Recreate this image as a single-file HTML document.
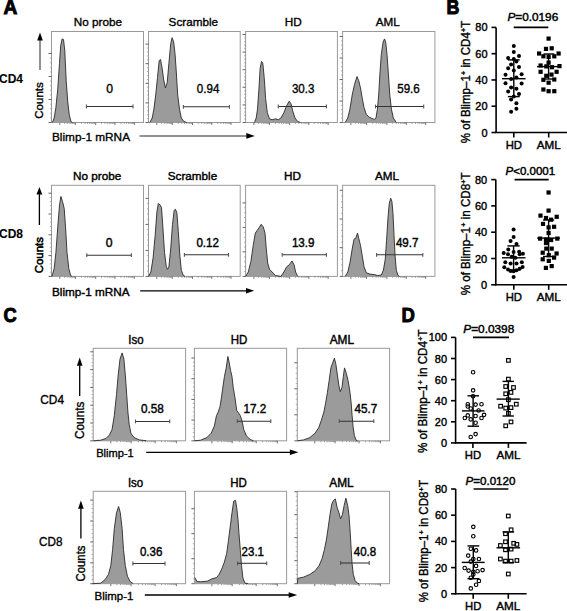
<!DOCTYPE html>
<html><head><meta charset="utf-8"><style>
html,body{margin:0;padding:0;background:#fff;}
body{width:567px;height:611px;overflow:hidden;}
svg{display:block;font-family:"Liberation Sans", sans-serif;}
text{stroke:#000;stroke-width:0.35px;}
</style></head><body>
<svg width="567" height="611" viewBox="0 0 567 611" font-family='"Liberation Sans", sans-serif'>
<rect width="567" height="611" fill="#fff"/>
<text x="3.4" y="14.3" font-size="20" font-weight="bold" text-anchor="start" textLength="13.8" lengthAdjust="spacingAndGlyphs" style="stroke-width:1px">A</text>
<text x="446.4" y="14.3" font-size="20" font-weight="bold" text-anchor="start" textLength="12.9" lengthAdjust="spacingAndGlyphs" style="stroke-width:1px">B</text>
<text x="3.6" y="322.3" font-size="21" font-weight="bold" text-anchor="start" textLength="13.2" lengthAdjust="spacingAndGlyphs" style="stroke-width:1px">C</text>
<text x="401.6" y="322.3" font-size="21" font-weight="bold" text-anchor="start" textLength="13.4" lengthAdjust="spacingAndGlyphs" style="stroke-width:1px">D</text>
<rect x="51.5" y="31.5" width="92.0" height="91.0" fill="none" stroke="#999999" stroke-width="1"/>
<line x1="48.5" y1="53.5" x2="51.5" y2="53.5" stroke="#555" stroke-width="0.9"/>
<line x1="48.5" y1="76.5" x2="51.5" y2="76.5" stroke="#555" stroke-width="0.9"/>
<line x1="48.5" y1="99.5" x2="51.5" y2="99.5" stroke="#555" stroke-width="0.9"/>
<line x1="48.5" y1="122.5" x2="51.5" y2="122.5" stroke="#555" stroke-width="0.9"/>
<line x1="49.9" y1="58.1" x2="51.5" y2="58.1" stroke="#888" stroke-width="0.6"/>
<line x1="49.9" y1="62.7" x2="51.5" y2="62.7" stroke="#888" stroke-width="0.6"/>
<line x1="49.9" y1="67.3" x2="51.5" y2="67.3" stroke="#888" stroke-width="0.6"/>
<line x1="49.9" y1="71.9" x2="51.5" y2="71.9" stroke="#888" stroke-width="0.6"/>
<line x1="49.9" y1="81.1" x2="51.5" y2="81.1" stroke="#888" stroke-width="0.6"/>
<line x1="49.9" y1="85.7" x2="51.5" y2="85.7" stroke="#888" stroke-width="0.6"/>
<line x1="49.9" y1="90.3" x2="51.5" y2="90.3" stroke="#888" stroke-width="0.6"/>
<line x1="49.9" y1="94.9" x2="51.5" y2="94.9" stroke="#888" stroke-width="0.6"/>
<line x1="49.9" y1="104.1" x2="51.5" y2="104.1" stroke="#888" stroke-width="0.6"/>
<line x1="49.9" y1="108.7" x2="51.5" y2="108.7" stroke="#888" stroke-width="0.6"/>
<line x1="49.9" y1="113.3" x2="51.5" y2="113.3" stroke="#888" stroke-width="0.6"/>
<line x1="49.9" y1="117.9" x2="51.5" y2="117.9" stroke="#888" stroke-width="0.6"/>
<line x1="59.8" y1="122.5" x2="59.8" y2="125.0" stroke="#666" stroke-width="0.9"/>
<line x1="75.4" y1="122.5" x2="75.4" y2="125.0" stroke="#666" stroke-width="0.9"/>
<line x1="95.7" y1="122.5" x2="95.7" y2="125.0" stroke="#666" stroke-width="0.9"/>
<line x1="115.0" y1="122.5" x2="115.0" y2="125.0" stroke="#666" stroke-width="0.9"/>
<line x1="134.3" y1="122.5" x2="134.3" y2="125.0" stroke="#666" stroke-width="0.9"/>
<line x1="64.5" y1="122.5" x2="64.5" y2="123.9" stroke="#666" stroke-width="0.6"/>
<line x1="67.2" y1="122.5" x2="67.2" y2="123.9" stroke="#666" stroke-width="0.6"/>
<line x1="69.2" y1="122.5" x2="69.2" y2="123.9" stroke="#666" stroke-width="0.6"/>
<line x1="70.7" y1="122.5" x2="70.7" y2="123.9" stroke="#666" stroke-width="0.6"/>
<line x1="72.0" y1="122.5" x2="72.0" y2="123.9" stroke="#666" stroke-width="0.6"/>
<line x1="73.0" y1="122.5" x2="73.0" y2="123.9" stroke="#666" stroke-width="0.6"/>
<line x1="73.9" y1="122.5" x2="73.9" y2="123.9" stroke="#666" stroke-width="0.6"/>
<line x1="74.7" y1="122.5" x2="74.7" y2="123.9" stroke="#666" stroke-width="0.6"/>
<line x1="81.5" y1="122.5" x2="81.5" y2="123.9" stroke="#666" stroke-width="0.6"/>
<line x1="85.1" y1="122.5" x2="85.1" y2="123.9" stroke="#666" stroke-width="0.6"/>
<line x1="87.6" y1="122.5" x2="87.6" y2="123.9" stroke="#666" stroke-width="0.6"/>
<line x1="89.6" y1="122.5" x2="89.6" y2="123.9" stroke="#666" stroke-width="0.6"/>
<line x1="91.2" y1="122.5" x2="91.2" y2="123.9" stroke="#666" stroke-width="0.6"/>
<line x1="92.5" y1="122.5" x2="92.5" y2="123.9" stroke="#666" stroke-width="0.6"/>
<line x1="93.7" y1="122.5" x2="93.7" y2="123.9" stroke="#666" stroke-width="0.6"/>
<line x1="94.7" y1="122.5" x2="94.7" y2="123.9" stroke="#666" stroke-width="0.6"/>
<line x1="101.5" y1="122.5" x2="101.5" y2="123.9" stroke="#666" stroke-width="0.6"/>
<line x1="104.9" y1="122.5" x2="104.9" y2="123.9" stroke="#666" stroke-width="0.6"/>
<line x1="107.3" y1="122.5" x2="107.3" y2="123.9" stroke="#666" stroke-width="0.6"/>
<line x1="109.2" y1="122.5" x2="109.2" y2="123.9" stroke="#666" stroke-width="0.6"/>
<line x1="110.7" y1="122.5" x2="110.7" y2="123.9" stroke="#666" stroke-width="0.6"/>
<line x1="112.0" y1="122.5" x2="112.0" y2="123.9" stroke="#666" stroke-width="0.6"/>
<line x1="113.1" y1="122.5" x2="113.1" y2="123.9" stroke="#666" stroke-width="0.6"/>
<line x1="114.1" y1="122.5" x2="114.1" y2="123.9" stroke="#666" stroke-width="0.6"/>
<line x1="120.8" y1="122.5" x2="120.8" y2="123.9" stroke="#666" stroke-width="0.6"/>
<line x1="124.2" y1="122.5" x2="124.2" y2="123.9" stroke="#666" stroke-width="0.6"/>
<line x1="126.6" y1="122.5" x2="126.6" y2="123.9" stroke="#666" stroke-width="0.6"/>
<line x1="128.5" y1="122.5" x2="128.5" y2="123.9" stroke="#666" stroke-width="0.6"/>
<line x1="130.0" y1="122.5" x2="130.0" y2="123.9" stroke="#666" stroke-width="0.6"/>
<line x1="131.3" y1="122.5" x2="131.3" y2="123.9" stroke="#666" stroke-width="0.6"/>
<line x1="132.4" y1="122.5" x2="132.4" y2="123.9" stroke="#666" stroke-width="0.6"/>
<line x1="133.4" y1="122.5" x2="133.4" y2="123.9" stroke="#666" stroke-width="0.6"/>
<path d="M52.4,122.4 L54.2,118.0 L55.9,107.4 L57.7,89.7 L59.5,63.3 L60.7,45.6 L62.1,38.9 L63.5,39.5 L64.8,50.9 L66.2,80.9 L67.8,102.0 L69.2,114.4 L70.9,121.5 L72.5,122.4 L72.5,122.5 L52.4,122.5 Z" fill="#9b9b9b" stroke="none"/>
<path d="M52.4,122.4 L54.2,118.0 L55.9,107.4 L57.7,89.7 L59.5,63.3 L60.7,45.6 L62.1,38.9 L63.5,39.5 L64.8,50.9 L66.2,80.9 L67.8,102.0 L69.2,114.4 L70.9,121.5 L72.5,122.4" fill="none" stroke="#2a2a2a" stroke-width="0.9" stroke-linejoin="round"/>
<line x1="86.4" y1="106.5" x2="133" y2="106.5" stroke="#333" stroke-width="1.05"/>
<line x1="86.4" y1="104.6" x2="86.4" y2="108.4" stroke="#555" stroke-width="1.1"/>
<line x1="133" y1="104.6" x2="133" y2="108.4" stroke="#555" stroke-width="1.1"/>
<text x="109.7" y="92.7" font-size="12.2" font-weight="normal" text-anchor="middle" >0</text>
<text x="73.8" y="25.6" font-size="11.7" font-weight="normal" text-anchor="start" textLength="48.3" lengthAdjust="spacingAndGlyphs" >No probe</text>
<rect x="148.5" y="31.5" width="91.69999999999999" height="91.0" fill="none" stroke="#999999" stroke-width="1"/>
<line x1="145.5" y1="44.099999999999994" x2="148.5" y2="44.099999999999994" stroke="#555" stroke-width="0.9"/>
<line x1="145.5" y1="63.699999999999996" x2="148.5" y2="63.699999999999996" stroke="#555" stroke-width="0.9"/>
<line x1="145.5" y1="83.3" x2="148.5" y2="83.3" stroke="#555" stroke-width="0.9"/>
<line x1="145.5" y1="102.9" x2="148.5" y2="102.9" stroke="#555" stroke-width="0.9"/>
<line x1="145.5" y1="122.5" x2="148.5" y2="122.5" stroke="#555" stroke-width="0.9"/>
<line x1="146.9" y1="48.0" x2="148.5" y2="48.0" stroke="#888" stroke-width="0.6"/>
<line x1="146.9" y1="51.9" x2="148.5" y2="51.9" stroke="#888" stroke-width="0.6"/>
<line x1="146.9" y1="55.9" x2="148.5" y2="55.9" stroke="#888" stroke-width="0.6"/>
<line x1="146.9" y1="59.8" x2="148.5" y2="59.8" stroke="#888" stroke-width="0.6"/>
<line x1="146.9" y1="67.6" x2="148.5" y2="67.6" stroke="#888" stroke-width="0.6"/>
<line x1="146.9" y1="71.5" x2="148.5" y2="71.5" stroke="#888" stroke-width="0.6"/>
<line x1="146.9" y1="75.5" x2="148.5" y2="75.5" stroke="#888" stroke-width="0.6"/>
<line x1="146.9" y1="79.4" x2="148.5" y2="79.4" stroke="#888" stroke-width="0.6"/>
<line x1="146.9" y1="87.2" x2="148.5" y2="87.2" stroke="#888" stroke-width="0.6"/>
<line x1="146.9" y1="91.1" x2="148.5" y2="91.1" stroke="#888" stroke-width="0.6"/>
<line x1="146.9" y1="95.1" x2="148.5" y2="95.1" stroke="#888" stroke-width="0.6"/>
<line x1="146.9" y1="99.0" x2="148.5" y2="99.0" stroke="#888" stroke-width="0.6"/>
<line x1="146.9" y1="106.8" x2="148.5" y2="106.8" stroke="#888" stroke-width="0.6"/>
<line x1="146.9" y1="110.7" x2="148.5" y2="110.7" stroke="#888" stroke-width="0.6"/>
<line x1="146.9" y1="114.7" x2="148.5" y2="114.7" stroke="#888" stroke-width="0.6"/>
<line x1="146.9" y1="118.6" x2="148.5" y2="118.6" stroke="#888" stroke-width="0.6"/>
<line x1="156.8" y1="122.5" x2="156.8" y2="125.0" stroke="#666" stroke-width="0.9"/>
<line x1="172.3" y1="122.5" x2="172.3" y2="125.0" stroke="#666" stroke-width="0.9"/>
<line x1="192.5" y1="122.5" x2="192.5" y2="125.0" stroke="#666" stroke-width="0.9"/>
<line x1="211.8" y1="122.5" x2="211.8" y2="125.0" stroke="#666" stroke-width="0.9"/>
<line x1="231.0" y1="122.5" x2="231.0" y2="125.0" stroke="#666" stroke-width="0.9"/>
<line x1="161.4" y1="122.5" x2="161.4" y2="123.9" stroke="#666" stroke-width="0.6"/>
<line x1="164.2" y1="122.5" x2="164.2" y2="123.9" stroke="#666" stroke-width="0.6"/>
<line x1="166.1" y1="122.5" x2="166.1" y2="123.9" stroke="#666" stroke-width="0.6"/>
<line x1="167.6" y1="122.5" x2="167.6" y2="123.9" stroke="#666" stroke-width="0.6"/>
<line x1="168.9" y1="122.5" x2="168.9" y2="123.9" stroke="#666" stroke-width="0.6"/>
<line x1="169.9" y1="122.5" x2="169.9" y2="123.9" stroke="#666" stroke-width="0.6"/>
<line x1="170.8" y1="122.5" x2="170.8" y2="123.9" stroke="#666" stroke-width="0.6"/>
<line x1="171.6" y1="122.5" x2="171.6" y2="123.9" stroke="#666" stroke-width="0.6"/>
<line x1="178.4" y1="122.5" x2="178.4" y2="123.9" stroke="#666" stroke-width="0.6"/>
<line x1="182.0" y1="122.5" x2="182.0" y2="123.9" stroke="#666" stroke-width="0.6"/>
<line x1="184.5" y1="122.5" x2="184.5" y2="123.9" stroke="#666" stroke-width="0.6"/>
<line x1="186.4" y1="122.5" x2="186.4" y2="123.9" stroke="#666" stroke-width="0.6"/>
<line x1="188.0" y1="122.5" x2="188.0" y2="123.9" stroke="#666" stroke-width="0.6"/>
<line x1="189.4" y1="122.5" x2="189.4" y2="123.9" stroke="#666" stroke-width="0.6"/>
<line x1="190.6" y1="122.5" x2="190.6" y2="123.9" stroke="#666" stroke-width="0.6"/>
<line x1="191.6" y1="122.5" x2="191.6" y2="123.9" stroke="#666" stroke-width="0.6"/>
<line x1="198.3" y1="122.5" x2="198.3" y2="123.9" stroke="#666" stroke-width="0.6"/>
<line x1="201.7" y1="122.5" x2="201.7" y2="123.9" stroke="#666" stroke-width="0.6"/>
<line x1="204.1" y1="122.5" x2="204.1" y2="123.9" stroke="#666" stroke-width="0.6"/>
<line x1="206.0" y1="122.5" x2="206.0" y2="123.9" stroke="#666" stroke-width="0.6"/>
<line x1="207.5" y1="122.5" x2="207.5" y2="123.9" stroke="#666" stroke-width="0.6"/>
<line x1="208.8" y1="122.5" x2="208.8" y2="123.9" stroke="#666" stroke-width="0.6"/>
<line x1="209.9" y1="122.5" x2="209.9" y2="123.9" stroke="#666" stroke-width="0.6"/>
<line x1="210.9" y1="122.5" x2="210.9" y2="123.9" stroke="#666" stroke-width="0.6"/>
<line x1="217.6" y1="122.5" x2="217.6" y2="123.9" stroke="#666" stroke-width="0.6"/>
<line x1="221.0" y1="122.5" x2="221.0" y2="123.9" stroke="#666" stroke-width="0.6"/>
<line x1="223.4" y1="122.5" x2="223.4" y2="123.9" stroke="#666" stroke-width="0.6"/>
<line x1="225.2" y1="122.5" x2="225.2" y2="123.9" stroke="#666" stroke-width="0.6"/>
<line x1="226.8" y1="122.5" x2="226.8" y2="123.9" stroke="#666" stroke-width="0.6"/>
<line x1="228.0" y1="122.5" x2="228.0" y2="123.9" stroke="#666" stroke-width="0.6"/>
<line x1="229.2" y1="122.5" x2="229.2" y2="123.9" stroke="#666" stroke-width="0.6"/>
<line x1="230.1" y1="122.5" x2="230.1" y2="123.9" stroke="#666" stroke-width="0.6"/>
<path d="M149.9,122.4 L152.2,118.0 L153.9,109.1 L155.7,95.0 L157.5,77.4 L159.2,60.6 L160.5,59.4 L161.9,66.8 L163.6,79.1 L165.4,88.0 L167.2,82.7 L168.9,63.3 L170.7,43.9 L172.1,37.7 L173.7,42.1 L175.1,54.5 L176.3,72.1 L177.7,95.0 L179.5,109.1 L181.3,118.0 L183.9,121.5 L186.6,122.4 L186.6,122.5 L149.9,122.5 Z" fill="#9b9b9b" stroke="none"/>
<path d="M149.9,122.4 L152.2,118.0 L153.9,109.1 L155.7,95.0 L157.5,77.4 L159.2,60.6 L160.5,59.4 L161.9,66.8 L163.6,79.1 L165.4,88.0 L167.2,82.7 L168.9,63.3 L170.7,43.9 L172.1,37.7 L173.7,42.1 L175.1,54.5 L176.3,72.1 L177.7,95.0 L179.5,109.1 L181.3,118.0 L183.9,121.5 L186.6,122.4" fill="none" stroke="#2a2a2a" stroke-width="0.9" stroke-linejoin="round"/>
<line x1="183.4" y1="106.8" x2="229.4" y2="106.8" stroke="#333" stroke-width="1.05"/>
<line x1="183.4" y1="104.89999999999999" x2="183.4" y2="108.7" stroke="#555" stroke-width="1.1"/>
<line x1="229.4" y1="104.89999999999999" x2="229.4" y2="108.7" stroke="#555" stroke-width="1.1"/>
<text x="208.1" y="92.7" font-size="12.2" font-weight="normal" text-anchor="middle" textLength="22.6" lengthAdjust="spacingAndGlyphs" >0.94</text>
<text x="168.6" y="25.6" font-size="11.7" font-weight="normal" text-anchor="start" textLength="49.4" lengthAdjust="spacingAndGlyphs" >Scramble</text>
<rect x="245.6" y="31.5" width="91.79999999999998" height="91.0" fill="none" stroke="#999999" stroke-width="1"/>
<line x1="242.6" y1="34.5" x2="245.6" y2="34.5" stroke="#555" stroke-width="0.9"/>
<line x1="242.6" y1="52.099999999999994" x2="245.6" y2="52.099999999999994" stroke="#555" stroke-width="0.9"/>
<line x1="242.6" y1="69.69999999999999" x2="245.6" y2="69.69999999999999" stroke="#555" stroke-width="0.9"/>
<line x1="242.6" y1="87.3" x2="245.6" y2="87.3" stroke="#555" stroke-width="0.9"/>
<line x1="242.6" y1="104.9" x2="245.6" y2="104.9" stroke="#555" stroke-width="0.9"/>
<line x1="242.6" y1="122.5" x2="245.6" y2="122.5" stroke="#555" stroke-width="0.9"/>
<line x1="244.0" y1="38.0" x2="245.6" y2="38.0" stroke="#888" stroke-width="0.6"/>
<line x1="244.0" y1="41.5" x2="245.6" y2="41.5" stroke="#888" stroke-width="0.6"/>
<line x1="244.0" y1="45.1" x2="245.6" y2="45.1" stroke="#888" stroke-width="0.6"/>
<line x1="244.0" y1="48.6" x2="245.6" y2="48.6" stroke="#888" stroke-width="0.6"/>
<line x1="244.0" y1="55.6" x2="245.6" y2="55.6" stroke="#888" stroke-width="0.6"/>
<line x1="244.0" y1="59.1" x2="245.6" y2="59.1" stroke="#888" stroke-width="0.6"/>
<line x1="244.0" y1="62.7" x2="245.6" y2="62.7" stroke="#888" stroke-width="0.6"/>
<line x1="244.0" y1="66.2" x2="245.6" y2="66.2" stroke="#888" stroke-width="0.6"/>
<line x1="244.0" y1="73.2" x2="245.6" y2="73.2" stroke="#888" stroke-width="0.6"/>
<line x1="244.0" y1="76.7" x2="245.6" y2="76.7" stroke="#888" stroke-width="0.6"/>
<line x1="244.0" y1="80.3" x2="245.6" y2="80.3" stroke="#888" stroke-width="0.6"/>
<line x1="244.0" y1="83.8" x2="245.6" y2="83.8" stroke="#888" stroke-width="0.6"/>
<line x1="244.0" y1="90.8" x2="245.6" y2="90.8" stroke="#888" stroke-width="0.6"/>
<line x1="244.0" y1="94.3" x2="245.6" y2="94.3" stroke="#888" stroke-width="0.6"/>
<line x1="244.0" y1="97.9" x2="245.6" y2="97.9" stroke="#888" stroke-width="0.6"/>
<line x1="244.0" y1="101.4" x2="245.6" y2="101.4" stroke="#888" stroke-width="0.6"/>
<line x1="244.0" y1="108.4" x2="245.6" y2="108.4" stroke="#888" stroke-width="0.6"/>
<line x1="244.0" y1="111.9" x2="245.6" y2="111.9" stroke="#888" stroke-width="0.6"/>
<line x1="244.0" y1="115.5" x2="245.6" y2="115.5" stroke="#888" stroke-width="0.6"/>
<line x1="244.0" y1="119.0" x2="245.6" y2="119.0" stroke="#888" stroke-width="0.6"/>
<line x1="253.9" y1="122.5" x2="253.9" y2="125.0" stroke="#666" stroke-width="0.9"/>
<line x1="269.5" y1="122.5" x2="269.5" y2="125.0" stroke="#666" stroke-width="0.9"/>
<line x1="289.7" y1="122.5" x2="289.7" y2="125.0" stroke="#666" stroke-width="0.9"/>
<line x1="308.9" y1="122.5" x2="308.9" y2="125.0" stroke="#666" stroke-width="0.9"/>
<line x1="328.2" y1="122.5" x2="328.2" y2="125.0" stroke="#666" stroke-width="0.9"/>
<line x1="258.6" y1="122.5" x2="258.6" y2="123.9" stroke="#666" stroke-width="0.6"/>
<line x1="261.3" y1="122.5" x2="261.3" y2="123.9" stroke="#666" stroke-width="0.6"/>
<line x1="263.3" y1="122.5" x2="263.3" y2="123.9" stroke="#666" stroke-width="0.6"/>
<line x1="264.8" y1="122.5" x2="264.8" y2="123.9" stroke="#666" stroke-width="0.6"/>
<line x1="266.0" y1="122.5" x2="266.0" y2="123.9" stroke="#666" stroke-width="0.6"/>
<line x1="267.1" y1="122.5" x2="267.1" y2="123.9" stroke="#666" stroke-width="0.6"/>
<line x1="268.0" y1="122.5" x2="268.0" y2="123.9" stroke="#666" stroke-width="0.6"/>
<line x1="268.8" y1="122.5" x2="268.8" y2="123.9" stroke="#666" stroke-width="0.6"/>
<line x1="275.5" y1="122.5" x2="275.5" y2="123.9" stroke="#666" stroke-width="0.6"/>
<line x1="279.1" y1="122.5" x2="279.1" y2="123.9" stroke="#666" stroke-width="0.6"/>
<line x1="281.6" y1="122.5" x2="281.6" y2="123.9" stroke="#666" stroke-width="0.6"/>
<line x1="283.6" y1="122.5" x2="283.6" y2="123.9" stroke="#666" stroke-width="0.6"/>
<line x1="285.2" y1="122.5" x2="285.2" y2="123.9" stroke="#666" stroke-width="0.6"/>
<line x1="286.5" y1="122.5" x2="286.5" y2="123.9" stroke="#666" stroke-width="0.6"/>
<line x1="287.7" y1="122.5" x2="287.7" y2="123.9" stroke="#666" stroke-width="0.6"/>
<line x1="288.7" y1="122.5" x2="288.7" y2="123.9" stroke="#666" stroke-width="0.6"/>
<line x1="295.5" y1="122.5" x2="295.5" y2="123.9" stroke="#666" stroke-width="0.6"/>
<line x1="298.9" y1="122.5" x2="298.9" y2="123.9" stroke="#666" stroke-width="0.6"/>
<line x1="301.3" y1="122.5" x2="301.3" y2="123.9" stroke="#666" stroke-width="0.6"/>
<line x1="303.1" y1="122.5" x2="303.1" y2="123.9" stroke="#666" stroke-width="0.6"/>
<line x1="304.7" y1="122.5" x2="304.7" y2="123.9" stroke="#666" stroke-width="0.6"/>
<line x1="306.0" y1="122.5" x2="306.0" y2="123.9" stroke="#666" stroke-width="0.6"/>
<line x1="307.1" y1="122.5" x2="307.1" y2="123.9" stroke="#666" stroke-width="0.6"/>
<line x1="308.1" y1="122.5" x2="308.1" y2="123.9" stroke="#666" stroke-width="0.6"/>
<line x1="314.7" y1="122.5" x2="314.7" y2="123.9" stroke="#666" stroke-width="0.6"/>
<line x1="318.1" y1="122.5" x2="318.1" y2="123.9" stroke="#666" stroke-width="0.6"/>
<line x1="320.5" y1="122.5" x2="320.5" y2="123.9" stroke="#666" stroke-width="0.6"/>
<line x1="322.4" y1="122.5" x2="322.4" y2="123.9" stroke="#666" stroke-width="0.6"/>
<line x1="323.9" y1="122.5" x2="323.9" y2="123.9" stroke="#666" stroke-width="0.6"/>
<line x1="325.2" y1="122.5" x2="325.2" y2="123.9" stroke="#666" stroke-width="0.6"/>
<line x1="326.4" y1="122.5" x2="326.4" y2="123.9" stroke="#666" stroke-width="0.6"/>
<line x1="327.3" y1="122.5" x2="327.3" y2="123.9" stroke="#666" stroke-width="0.6"/>
<path d="M254.5,122.4 L256.2,118.0 L257.5,109.1 L258.9,89.7 L260.1,68.6 L261.5,61.5 L262.8,63.3 L264.2,77.4 L265.6,98.5 L267.3,112.7 L269.5,118.8 L272.1,119.7 L275.6,118.8 L278.3,119.7 L280.9,118.0 L283.9,112.7 L286.7,105.6 L289.2,101.2 L291.0,103.8 L292.7,110.9 L295.0,118.0 L297.7,121.5 L300.3,122.4 L300.3,122.5 L254.5,122.5 Z" fill="#9b9b9b" stroke="none"/>
<path d="M254.5,122.4 L256.2,118.0 L257.5,109.1 L258.9,89.7 L260.1,68.6 L261.5,61.5 L262.8,63.3 L264.2,77.4 L265.6,98.5 L267.3,112.7 L269.5,118.8 L272.1,119.7 L275.6,118.8 L278.3,119.7 L280.9,118.0 L283.9,112.7 L286.7,105.6 L289.2,101.2 L291.0,103.8 L292.7,110.9 L295.0,118.0 L297.7,121.5 L300.3,122.4" fill="none" stroke="#2a2a2a" stroke-width="0.9" stroke-linejoin="round"/>
<line x1="278.3" y1="106.5" x2="326.4" y2="106.5" stroke="#333" stroke-width="1.05"/>
<line x1="278.3" y1="104.6" x2="278.3" y2="108.4" stroke="#555" stroke-width="1.1"/>
<line x1="326.4" y1="104.6" x2="326.4" y2="108.4" stroke="#555" stroke-width="1.1"/>
<text x="303.2" y="92.7" font-size="12.2" font-weight="normal" text-anchor="middle" textLength="22.6" lengthAdjust="spacingAndGlyphs" >30.3</text>
<text x="284.8" y="25.6" font-size="11.7" font-weight="normal" text-anchor="start" textLength="17.0" lengthAdjust="spacingAndGlyphs" >HD</text>
<rect x="342.6" y="31.5" width="92.29999999999995" height="91.0" fill="none" stroke="#999999" stroke-width="1"/>
<line x1="339.6" y1="36.5" x2="342.6" y2="36.5" stroke="#555" stroke-width="0.9"/>
<line x1="339.6" y1="58.0" x2="342.6" y2="58.0" stroke="#555" stroke-width="0.9"/>
<line x1="339.6" y1="79.5" x2="342.6" y2="79.5" stroke="#555" stroke-width="0.9"/>
<line x1="339.6" y1="101.0" x2="342.6" y2="101.0" stroke="#555" stroke-width="0.9"/>
<line x1="339.6" y1="122.5" x2="342.6" y2="122.5" stroke="#555" stroke-width="0.9"/>
<line x1="341.0" y1="40.8" x2="342.6" y2="40.8" stroke="#888" stroke-width="0.6"/>
<line x1="341.0" y1="45.1" x2="342.6" y2="45.1" stroke="#888" stroke-width="0.6"/>
<line x1="341.0" y1="49.4" x2="342.6" y2="49.4" stroke="#888" stroke-width="0.6"/>
<line x1="341.0" y1="53.7" x2="342.6" y2="53.7" stroke="#888" stroke-width="0.6"/>
<line x1="341.0" y1="62.3" x2="342.6" y2="62.3" stroke="#888" stroke-width="0.6"/>
<line x1="341.0" y1="66.6" x2="342.6" y2="66.6" stroke="#888" stroke-width="0.6"/>
<line x1="341.0" y1="70.9" x2="342.6" y2="70.9" stroke="#888" stroke-width="0.6"/>
<line x1="341.0" y1="75.2" x2="342.6" y2="75.2" stroke="#888" stroke-width="0.6"/>
<line x1="341.0" y1="83.8" x2="342.6" y2="83.8" stroke="#888" stroke-width="0.6"/>
<line x1="341.0" y1="88.1" x2="342.6" y2="88.1" stroke="#888" stroke-width="0.6"/>
<line x1="341.0" y1="92.4" x2="342.6" y2="92.4" stroke="#888" stroke-width="0.6"/>
<line x1="341.0" y1="96.7" x2="342.6" y2="96.7" stroke="#888" stroke-width="0.6"/>
<line x1="341.0" y1="105.3" x2="342.6" y2="105.3" stroke="#888" stroke-width="0.6"/>
<line x1="341.0" y1="109.6" x2="342.6" y2="109.6" stroke="#888" stroke-width="0.6"/>
<line x1="341.0" y1="113.9" x2="342.6" y2="113.9" stroke="#888" stroke-width="0.6"/>
<line x1="341.0" y1="118.2" x2="342.6" y2="118.2" stroke="#888" stroke-width="0.6"/>
<line x1="350.9" y1="122.5" x2="350.9" y2="125.0" stroke="#666" stroke-width="0.9"/>
<line x1="366.6" y1="122.5" x2="366.6" y2="125.0" stroke="#666" stroke-width="0.9"/>
<line x1="386.9" y1="122.5" x2="386.9" y2="125.0" stroke="#666" stroke-width="0.9"/>
<line x1="406.3" y1="122.5" x2="406.3" y2="125.0" stroke="#666" stroke-width="0.9"/>
<line x1="425.7" y1="122.5" x2="425.7" y2="125.0" stroke="#666" stroke-width="0.9"/>
<line x1="355.6" y1="122.5" x2="355.6" y2="123.9" stroke="#666" stroke-width="0.6"/>
<line x1="358.4" y1="122.5" x2="358.4" y2="123.9" stroke="#666" stroke-width="0.6"/>
<line x1="360.4" y1="122.5" x2="360.4" y2="123.9" stroke="#666" stroke-width="0.6"/>
<line x1="361.9" y1="122.5" x2="361.9" y2="123.9" stroke="#666" stroke-width="0.6"/>
<line x1="363.1" y1="122.5" x2="363.1" y2="123.9" stroke="#666" stroke-width="0.6"/>
<line x1="364.2" y1="122.5" x2="364.2" y2="123.9" stroke="#666" stroke-width="0.6"/>
<line x1="365.1" y1="122.5" x2="365.1" y2="123.9" stroke="#666" stroke-width="0.6"/>
<line x1="365.9" y1="122.5" x2="365.9" y2="123.9" stroke="#666" stroke-width="0.6"/>
<line x1="372.7" y1="122.5" x2="372.7" y2="123.9" stroke="#666" stroke-width="0.6"/>
<line x1="376.3" y1="122.5" x2="376.3" y2="123.9" stroke="#666" stroke-width="0.6"/>
<line x1="378.8" y1="122.5" x2="378.8" y2="123.9" stroke="#666" stroke-width="0.6"/>
<line x1="380.8" y1="122.5" x2="380.8" y2="123.9" stroke="#666" stroke-width="0.6"/>
<line x1="382.4" y1="122.5" x2="382.4" y2="123.9" stroke="#666" stroke-width="0.6"/>
<line x1="383.8" y1="122.5" x2="383.8" y2="123.9" stroke="#666" stroke-width="0.6"/>
<line x1="384.9" y1="122.5" x2="384.9" y2="123.9" stroke="#666" stroke-width="0.6"/>
<line x1="386.0" y1="122.5" x2="386.0" y2="123.9" stroke="#666" stroke-width="0.6"/>
<line x1="392.7" y1="122.5" x2="392.7" y2="123.9" stroke="#666" stroke-width="0.6"/>
<line x1="396.2" y1="122.5" x2="396.2" y2="123.9" stroke="#666" stroke-width="0.6"/>
<line x1="398.6" y1="122.5" x2="398.6" y2="123.9" stroke="#666" stroke-width="0.6"/>
<line x1="400.5" y1="122.5" x2="400.5" y2="123.9" stroke="#666" stroke-width="0.6"/>
<line x1="402.0" y1="122.5" x2="402.0" y2="123.9" stroke="#666" stroke-width="0.6"/>
<line x1="403.3" y1="122.5" x2="403.3" y2="123.9" stroke="#666" stroke-width="0.6"/>
<line x1="404.4" y1="122.5" x2="404.4" y2="123.9" stroke="#666" stroke-width="0.6"/>
<line x1="405.4" y1="122.5" x2="405.4" y2="123.9" stroke="#666" stroke-width="0.6"/>
<line x1="412.1" y1="122.5" x2="412.1" y2="123.9" stroke="#666" stroke-width="0.6"/>
<line x1="415.5" y1="122.5" x2="415.5" y2="123.9" stroke="#666" stroke-width="0.6"/>
<line x1="418.0" y1="122.5" x2="418.0" y2="123.9" stroke="#666" stroke-width="0.6"/>
<line x1="419.8" y1="122.5" x2="419.8" y2="123.9" stroke="#666" stroke-width="0.6"/>
<line x1="421.4" y1="122.5" x2="421.4" y2="123.9" stroke="#666" stroke-width="0.6"/>
<line x1="422.7" y1="122.5" x2="422.7" y2="123.9" stroke="#666" stroke-width="0.6"/>
<line x1="423.8" y1="122.5" x2="423.8" y2="123.9" stroke="#666" stroke-width="0.6"/>
<line x1="424.8" y1="122.5" x2="424.8" y2="123.9" stroke="#666" stroke-width="0.6"/>
<path d="M345.2,122.4 L347.8,118.0 L349.9,109.1 L352.2,95.0 L354.5,84.4 L357.0,76.5 L358.8,80.9 L360.5,88.0 L362.3,98.5 L364.0,107.4 L366.3,114.4 L369.0,117.1 L371.6,118.3 L374.3,119.4 L376.0,118.0 L377.4,109.1 L378.7,95.0 L379.9,73.9 L381.3,54.5 L383.1,42.1 L384.5,38.9 L385.7,42.1 L387.0,54.5 L388.4,73.9 L389.8,95.0 L391.4,109.1 L393.3,118.0 L396.3,122.4 L396.3,122.5 L345.2,122.5 Z" fill="#9b9b9b" stroke="none"/>
<path d="M345.2,122.4 L347.8,118.0 L349.9,109.1 L352.2,95.0 L354.5,84.4 L357.0,76.5 L358.8,80.9 L360.5,88.0 L362.3,98.5 L364.0,107.4 L366.3,114.4 L369.0,117.1 L371.6,118.3 L374.3,119.4 L376.0,118.0 L377.4,109.1 L378.7,95.0 L379.9,73.9 L381.3,54.5 L383.1,42.1 L384.5,38.9 L385.7,42.1 L387.0,54.5 L388.4,73.9 L389.8,95.0 L391.4,109.1 L393.3,118.0 L396.3,122.4" fill="none" stroke="#2a2a2a" stroke-width="0.9" stroke-linejoin="round"/>
<line x1="375.5" y1="106.5" x2="423.7" y2="106.5" stroke="#333" stroke-width="1.05"/>
<line x1="375.5" y1="104.6" x2="375.5" y2="108.4" stroke="#555" stroke-width="1.1"/>
<line x1="423.7" y1="104.6" x2="423.7" y2="108.4" stroke="#555" stroke-width="1.1"/>
<text x="408.5" y="92.7" font-size="12.2" font-weight="normal" text-anchor="middle" textLength="22.6" lengthAdjust="spacingAndGlyphs" >59.6</text>
<text x="375.7" y="25.6" font-size="11.7" font-weight="normal" text-anchor="start" textLength="24.0" lengthAdjust="spacingAndGlyphs" >AML</text>
<rect x="51.5" y="185.3" width="92.0" height="91.09999999999997" fill="none" stroke="#999999" stroke-width="1"/>
<line x1="48.5" y1="193.2" x2="51.5" y2="193.2" stroke="#555" stroke-width="0.9"/>
<line x1="48.5" y1="213.99999999999997" x2="51.5" y2="213.99999999999997" stroke="#555" stroke-width="0.9"/>
<line x1="48.5" y1="234.79999999999998" x2="51.5" y2="234.79999999999998" stroke="#555" stroke-width="0.9"/>
<line x1="48.5" y1="255.59999999999997" x2="51.5" y2="255.59999999999997" stroke="#555" stroke-width="0.9"/>
<line x1="48.5" y1="276.4" x2="51.5" y2="276.4" stroke="#555" stroke-width="0.9"/>
<line x1="49.9" y1="197.4" x2="51.5" y2="197.4" stroke="#888" stroke-width="0.6"/>
<line x1="49.9" y1="201.5" x2="51.5" y2="201.5" stroke="#888" stroke-width="0.6"/>
<line x1="49.9" y1="205.7" x2="51.5" y2="205.7" stroke="#888" stroke-width="0.6"/>
<line x1="49.9" y1="209.8" x2="51.5" y2="209.8" stroke="#888" stroke-width="0.6"/>
<line x1="49.9" y1="218.2" x2="51.5" y2="218.2" stroke="#888" stroke-width="0.6"/>
<line x1="49.9" y1="222.3" x2="51.5" y2="222.3" stroke="#888" stroke-width="0.6"/>
<line x1="49.9" y1="226.5" x2="51.5" y2="226.5" stroke="#888" stroke-width="0.6"/>
<line x1="49.9" y1="230.6" x2="51.5" y2="230.6" stroke="#888" stroke-width="0.6"/>
<line x1="49.9" y1="239.0" x2="51.5" y2="239.0" stroke="#888" stroke-width="0.6"/>
<line x1="49.9" y1="243.1" x2="51.5" y2="243.1" stroke="#888" stroke-width="0.6"/>
<line x1="49.9" y1="247.3" x2="51.5" y2="247.3" stroke="#888" stroke-width="0.6"/>
<line x1="49.9" y1="251.4" x2="51.5" y2="251.4" stroke="#888" stroke-width="0.6"/>
<line x1="49.9" y1="259.8" x2="51.5" y2="259.8" stroke="#888" stroke-width="0.6"/>
<line x1="49.9" y1="263.9" x2="51.5" y2="263.9" stroke="#888" stroke-width="0.6"/>
<line x1="49.9" y1="268.1" x2="51.5" y2="268.1" stroke="#888" stroke-width="0.6"/>
<line x1="49.9" y1="272.2" x2="51.5" y2="272.2" stroke="#888" stroke-width="0.6"/>
<line x1="59.8" y1="276.4" x2="59.8" y2="278.9" stroke="#666" stroke-width="0.9"/>
<line x1="75.4" y1="276.4" x2="75.4" y2="278.9" stroke="#666" stroke-width="0.9"/>
<line x1="95.7" y1="276.4" x2="95.7" y2="278.9" stroke="#666" stroke-width="0.9"/>
<line x1="115.0" y1="276.4" x2="115.0" y2="278.9" stroke="#666" stroke-width="0.9"/>
<line x1="134.3" y1="276.4" x2="134.3" y2="278.9" stroke="#666" stroke-width="0.9"/>
<line x1="64.5" y1="276.4" x2="64.5" y2="277.79999999999995" stroke="#666" stroke-width="0.6"/>
<line x1="67.2" y1="276.4" x2="67.2" y2="277.79999999999995" stroke="#666" stroke-width="0.6"/>
<line x1="69.2" y1="276.4" x2="69.2" y2="277.79999999999995" stroke="#666" stroke-width="0.6"/>
<line x1="70.7" y1="276.4" x2="70.7" y2="277.79999999999995" stroke="#666" stroke-width="0.6"/>
<line x1="72.0" y1="276.4" x2="72.0" y2="277.79999999999995" stroke="#666" stroke-width="0.6"/>
<line x1="73.0" y1="276.4" x2="73.0" y2="277.79999999999995" stroke="#666" stroke-width="0.6"/>
<line x1="73.9" y1="276.4" x2="73.9" y2="277.79999999999995" stroke="#666" stroke-width="0.6"/>
<line x1="74.7" y1="276.4" x2="74.7" y2="277.79999999999995" stroke="#666" stroke-width="0.6"/>
<line x1="81.5" y1="276.4" x2="81.5" y2="277.79999999999995" stroke="#666" stroke-width="0.6"/>
<line x1="85.1" y1="276.4" x2="85.1" y2="277.79999999999995" stroke="#666" stroke-width="0.6"/>
<line x1="87.6" y1="276.4" x2="87.6" y2="277.79999999999995" stroke="#666" stroke-width="0.6"/>
<line x1="89.6" y1="276.4" x2="89.6" y2="277.79999999999995" stroke="#666" stroke-width="0.6"/>
<line x1="91.2" y1="276.4" x2="91.2" y2="277.79999999999995" stroke="#666" stroke-width="0.6"/>
<line x1="92.5" y1="276.4" x2="92.5" y2="277.79999999999995" stroke="#666" stroke-width="0.6"/>
<line x1="93.7" y1="276.4" x2="93.7" y2="277.79999999999995" stroke="#666" stroke-width="0.6"/>
<line x1="94.7" y1="276.4" x2="94.7" y2="277.79999999999995" stroke="#666" stroke-width="0.6"/>
<line x1="101.5" y1="276.4" x2="101.5" y2="277.79999999999995" stroke="#666" stroke-width="0.6"/>
<line x1="104.9" y1="276.4" x2="104.9" y2="277.79999999999995" stroke="#666" stroke-width="0.6"/>
<line x1="107.3" y1="276.4" x2="107.3" y2="277.79999999999995" stroke="#666" stroke-width="0.6"/>
<line x1="109.2" y1="276.4" x2="109.2" y2="277.79999999999995" stroke="#666" stroke-width="0.6"/>
<line x1="110.7" y1="276.4" x2="110.7" y2="277.79999999999995" stroke="#666" stroke-width="0.6"/>
<line x1="112.0" y1="276.4" x2="112.0" y2="277.79999999999995" stroke="#666" stroke-width="0.6"/>
<line x1="113.1" y1="276.4" x2="113.1" y2="277.79999999999995" stroke="#666" stroke-width="0.6"/>
<line x1="114.1" y1="276.4" x2="114.1" y2="277.79999999999995" stroke="#666" stroke-width="0.6"/>
<line x1="120.8" y1="276.4" x2="120.8" y2="277.79999999999995" stroke="#666" stroke-width="0.6"/>
<line x1="124.2" y1="276.4" x2="124.2" y2="277.79999999999995" stroke="#666" stroke-width="0.6"/>
<line x1="126.6" y1="276.4" x2="126.6" y2="277.79999999999995" stroke="#666" stroke-width="0.6"/>
<line x1="128.5" y1="276.4" x2="128.5" y2="277.79999999999995" stroke="#666" stroke-width="0.6"/>
<line x1="130.0" y1="276.4" x2="130.0" y2="277.79999999999995" stroke="#666" stroke-width="0.6"/>
<line x1="131.3" y1="276.4" x2="131.3" y2="277.79999999999995" stroke="#666" stroke-width="0.6"/>
<line x1="132.4" y1="276.4" x2="132.4" y2="277.79999999999995" stroke="#666" stroke-width="0.6"/>
<line x1="133.4" y1="276.4" x2="133.4" y2="277.79999999999995" stroke="#666" stroke-width="0.6"/>
<path d="M51.9,276.4 L54.2,268.4 L55.9,252.5 L57.7,227.9 L59.5,204.9 L60.9,196.5 L62.5,201.4 L64.2,208.5 L65.6,227.9 L67.0,252.5 L68.8,268.4 L70.6,275.5 L72.0,276.4 L72.0,276.4 L51.9,276.4 Z" fill="#9b9b9b" stroke="none"/>
<path d="M51.9,276.4 L54.2,268.4 L55.9,252.5 L57.7,227.9 L59.5,204.9 L60.9,196.5 L62.5,201.4 L64.2,208.5 L65.6,227.9 L67.0,252.5 L68.8,268.4 L70.6,275.5 L72.0,276.4" fill="none" stroke="#2a2a2a" stroke-width="0.9" stroke-linejoin="round"/>
<line x1="86.8" y1="255.2" x2="131.4" y2="255.2" stroke="#333" stroke-width="1.05"/>
<line x1="86.8" y1="253.29999999999998" x2="86.8" y2="257.09999999999997" stroke="#555" stroke-width="1.1"/>
<line x1="131.4" y1="253.29999999999998" x2="131.4" y2="257.09999999999997" stroke="#555" stroke-width="1.1"/>
<text x="109.2" y="247.3" font-size="12.2" font-weight="normal" text-anchor="middle" style="stroke-width:0.42px">0</text>
<text x="73.0" y="180.0" font-size="11.7" font-weight="normal" text-anchor="start" textLength="48.3" lengthAdjust="spacingAndGlyphs" style="stroke-width:0.42px">No probe</text>
<rect x="148.5" y="185.3" width="91.69999999999999" height="91.09999999999997" fill="none" stroke="#999999" stroke-width="1"/>
<line x1="145.5" y1="198.39999999999998" x2="148.5" y2="198.39999999999998" stroke="#555" stroke-width="0.9"/>
<line x1="145.5" y1="224.39999999999998" x2="148.5" y2="224.39999999999998" stroke="#555" stroke-width="0.9"/>
<line x1="145.5" y1="250.39999999999998" x2="148.5" y2="250.39999999999998" stroke="#555" stroke-width="0.9"/>
<line x1="145.5" y1="276.4" x2="148.5" y2="276.4" stroke="#555" stroke-width="0.9"/>
<line x1="146.9" y1="203.6" x2="148.5" y2="203.6" stroke="#888" stroke-width="0.6"/>
<line x1="146.9" y1="208.8" x2="148.5" y2="208.8" stroke="#888" stroke-width="0.6"/>
<line x1="146.9" y1="214.0" x2="148.5" y2="214.0" stroke="#888" stroke-width="0.6"/>
<line x1="146.9" y1="219.2" x2="148.5" y2="219.2" stroke="#888" stroke-width="0.6"/>
<line x1="146.9" y1="229.6" x2="148.5" y2="229.6" stroke="#888" stroke-width="0.6"/>
<line x1="146.9" y1="234.8" x2="148.5" y2="234.8" stroke="#888" stroke-width="0.6"/>
<line x1="146.9" y1="240.0" x2="148.5" y2="240.0" stroke="#888" stroke-width="0.6"/>
<line x1="146.9" y1="245.2" x2="148.5" y2="245.2" stroke="#888" stroke-width="0.6"/>
<line x1="146.9" y1="255.6" x2="148.5" y2="255.6" stroke="#888" stroke-width="0.6"/>
<line x1="146.9" y1="260.8" x2="148.5" y2="260.8" stroke="#888" stroke-width="0.6"/>
<line x1="146.9" y1="266.0" x2="148.5" y2="266.0" stroke="#888" stroke-width="0.6"/>
<line x1="146.9" y1="271.2" x2="148.5" y2="271.2" stroke="#888" stroke-width="0.6"/>
<line x1="156.8" y1="276.4" x2="156.8" y2="278.9" stroke="#666" stroke-width="0.9"/>
<line x1="172.3" y1="276.4" x2="172.3" y2="278.9" stroke="#666" stroke-width="0.9"/>
<line x1="192.5" y1="276.4" x2="192.5" y2="278.9" stroke="#666" stroke-width="0.9"/>
<line x1="211.8" y1="276.4" x2="211.8" y2="278.9" stroke="#666" stroke-width="0.9"/>
<line x1="231.0" y1="276.4" x2="231.0" y2="278.9" stroke="#666" stroke-width="0.9"/>
<line x1="161.4" y1="276.4" x2="161.4" y2="277.79999999999995" stroke="#666" stroke-width="0.6"/>
<line x1="164.2" y1="276.4" x2="164.2" y2="277.79999999999995" stroke="#666" stroke-width="0.6"/>
<line x1="166.1" y1="276.4" x2="166.1" y2="277.79999999999995" stroke="#666" stroke-width="0.6"/>
<line x1="167.6" y1="276.4" x2="167.6" y2="277.79999999999995" stroke="#666" stroke-width="0.6"/>
<line x1="168.9" y1="276.4" x2="168.9" y2="277.79999999999995" stroke="#666" stroke-width="0.6"/>
<line x1="169.9" y1="276.4" x2="169.9" y2="277.79999999999995" stroke="#666" stroke-width="0.6"/>
<line x1="170.8" y1="276.4" x2="170.8" y2="277.79999999999995" stroke="#666" stroke-width="0.6"/>
<line x1="171.6" y1="276.4" x2="171.6" y2="277.79999999999995" stroke="#666" stroke-width="0.6"/>
<line x1="178.4" y1="276.4" x2="178.4" y2="277.79999999999995" stroke="#666" stroke-width="0.6"/>
<line x1="182.0" y1="276.4" x2="182.0" y2="277.79999999999995" stroke="#666" stroke-width="0.6"/>
<line x1="184.5" y1="276.4" x2="184.5" y2="277.79999999999995" stroke="#666" stroke-width="0.6"/>
<line x1="186.4" y1="276.4" x2="186.4" y2="277.79999999999995" stroke="#666" stroke-width="0.6"/>
<line x1="188.0" y1="276.4" x2="188.0" y2="277.79999999999995" stroke="#666" stroke-width="0.6"/>
<line x1="189.4" y1="276.4" x2="189.4" y2="277.79999999999995" stroke="#666" stroke-width="0.6"/>
<line x1="190.6" y1="276.4" x2="190.6" y2="277.79999999999995" stroke="#666" stroke-width="0.6"/>
<line x1="191.6" y1="276.4" x2="191.6" y2="277.79999999999995" stroke="#666" stroke-width="0.6"/>
<line x1="198.3" y1="276.4" x2="198.3" y2="277.79999999999995" stroke="#666" stroke-width="0.6"/>
<line x1="201.7" y1="276.4" x2="201.7" y2="277.79999999999995" stroke="#666" stroke-width="0.6"/>
<line x1="204.1" y1="276.4" x2="204.1" y2="277.79999999999995" stroke="#666" stroke-width="0.6"/>
<line x1="206.0" y1="276.4" x2="206.0" y2="277.79999999999995" stroke="#666" stroke-width="0.6"/>
<line x1="207.5" y1="276.4" x2="207.5" y2="277.79999999999995" stroke="#666" stroke-width="0.6"/>
<line x1="208.8" y1="276.4" x2="208.8" y2="277.79999999999995" stroke="#666" stroke-width="0.6"/>
<line x1="209.9" y1="276.4" x2="209.9" y2="277.79999999999995" stroke="#666" stroke-width="0.6"/>
<line x1="210.9" y1="276.4" x2="210.9" y2="277.79999999999995" stroke="#666" stroke-width="0.6"/>
<line x1="217.6" y1="276.4" x2="217.6" y2="277.79999999999995" stroke="#666" stroke-width="0.6"/>
<line x1="221.0" y1="276.4" x2="221.0" y2="277.79999999999995" stroke="#666" stroke-width="0.6"/>
<line x1="223.4" y1="276.4" x2="223.4" y2="277.79999999999995" stroke="#666" stroke-width="0.6"/>
<line x1="225.2" y1="276.4" x2="225.2" y2="277.79999999999995" stroke="#666" stroke-width="0.6"/>
<line x1="226.8" y1="276.4" x2="226.8" y2="277.79999999999995" stroke="#666" stroke-width="0.6"/>
<line x1="228.0" y1="276.4" x2="228.0" y2="277.79999999999995" stroke="#666" stroke-width="0.6"/>
<line x1="229.2" y1="276.4" x2="229.2" y2="277.79999999999995" stroke="#666" stroke-width="0.6"/>
<line x1="230.1" y1="276.4" x2="230.1" y2="277.79999999999995" stroke="#666" stroke-width="0.6"/>
<path d="M148.6,276.4 L150.9,272.0 L153.1,257.8 L155.2,234.9 L156.9,212.0 L158.3,203.5 L160.1,204.9 L161.5,207.6 L162.8,226.1 L164.5,252.5 L166.3,266.7 L167.5,269.3 L168.9,266.7 L170.7,249.0 L172.5,224.3 L174.2,210.2 L175.5,209.3 L176.9,212.9 L178.3,231.4 L179.9,256.1 L181.3,270.2 L183.4,275.5 L185.0,276.4 L185.0,276.4 L148.6,276.4 Z" fill="#9b9b9b" stroke="none"/>
<path d="M148.6,276.4 L150.9,272.0 L153.1,257.8 L155.2,234.9 L156.9,212.0 L158.3,203.5 L160.1,204.9 L161.5,207.6 L162.8,226.1 L164.5,252.5 L166.3,266.7 L167.5,269.3 L168.9,266.7 L170.7,249.0 L172.5,224.3 L174.2,210.2 L175.5,209.3 L176.9,212.9 L178.3,231.4 L179.9,256.1 L181.3,270.2 L183.4,275.5 L185.0,276.4" fill="none" stroke="#2a2a2a" stroke-width="0.9" stroke-linejoin="round"/>
<line x1="184.4" y1="254.8" x2="228.5" y2="254.8" stroke="#333" stroke-width="1.05"/>
<line x1="184.4" y1="252.9" x2="184.4" y2="256.7" stroke="#555" stroke-width="1.1"/>
<line x1="228.5" y1="252.9" x2="228.5" y2="256.7" stroke="#555" stroke-width="1.1"/>
<text x="207.7" y="247.3" font-size="12.2" font-weight="normal" text-anchor="middle" textLength="22.6" lengthAdjust="spacingAndGlyphs" style="stroke-width:0.42px">0.12</text>
<text x="167.79999999999998" y="180.0" font-size="11.7" font-weight="normal" text-anchor="start" textLength="49.4" lengthAdjust="spacingAndGlyphs" style="stroke-width:0.42px">Scramble</text>
<rect x="245.6" y="185.3" width="91.79999999999998" height="91.09999999999997" fill="none" stroke="#999999" stroke-width="1"/>
<line x1="242.6" y1="202.89999999999998" x2="245.6" y2="202.89999999999998" stroke="#555" stroke-width="0.9"/>
<line x1="242.6" y1="227.39999999999998" x2="245.6" y2="227.39999999999998" stroke="#555" stroke-width="0.9"/>
<line x1="242.6" y1="251.89999999999998" x2="245.6" y2="251.89999999999998" stroke="#555" stroke-width="0.9"/>
<line x1="242.6" y1="276.4" x2="245.6" y2="276.4" stroke="#555" stroke-width="0.9"/>
<line x1="244.0" y1="207.8" x2="245.6" y2="207.8" stroke="#888" stroke-width="0.6"/>
<line x1="244.0" y1="212.7" x2="245.6" y2="212.7" stroke="#888" stroke-width="0.6"/>
<line x1="244.0" y1="217.6" x2="245.6" y2="217.6" stroke="#888" stroke-width="0.6"/>
<line x1="244.0" y1="222.5" x2="245.6" y2="222.5" stroke="#888" stroke-width="0.6"/>
<line x1="244.0" y1="232.3" x2="245.6" y2="232.3" stroke="#888" stroke-width="0.6"/>
<line x1="244.0" y1="237.2" x2="245.6" y2="237.2" stroke="#888" stroke-width="0.6"/>
<line x1="244.0" y1="242.1" x2="245.6" y2="242.1" stroke="#888" stroke-width="0.6"/>
<line x1="244.0" y1="247.0" x2="245.6" y2="247.0" stroke="#888" stroke-width="0.6"/>
<line x1="244.0" y1="256.8" x2="245.6" y2="256.8" stroke="#888" stroke-width="0.6"/>
<line x1="244.0" y1="261.7" x2="245.6" y2="261.7" stroke="#888" stroke-width="0.6"/>
<line x1="244.0" y1="266.6" x2="245.6" y2="266.6" stroke="#888" stroke-width="0.6"/>
<line x1="244.0" y1="271.5" x2="245.6" y2="271.5" stroke="#888" stroke-width="0.6"/>
<line x1="253.9" y1="276.4" x2="253.9" y2="278.9" stroke="#666" stroke-width="0.9"/>
<line x1="269.5" y1="276.4" x2="269.5" y2="278.9" stroke="#666" stroke-width="0.9"/>
<line x1="289.7" y1="276.4" x2="289.7" y2="278.9" stroke="#666" stroke-width="0.9"/>
<line x1="308.9" y1="276.4" x2="308.9" y2="278.9" stroke="#666" stroke-width="0.9"/>
<line x1="328.2" y1="276.4" x2="328.2" y2="278.9" stroke="#666" stroke-width="0.9"/>
<line x1="258.6" y1="276.4" x2="258.6" y2="277.79999999999995" stroke="#666" stroke-width="0.6"/>
<line x1="261.3" y1="276.4" x2="261.3" y2="277.79999999999995" stroke="#666" stroke-width="0.6"/>
<line x1="263.3" y1="276.4" x2="263.3" y2="277.79999999999995" stroke="#666" stroke-width="0.6"/>
<line x1="264.8" y1="276.4" x2="264.8" y2="277.79999999999995" stroke="#666" stroke-width="0.6"/>
<line x1="266.0" y1="276.4" x2="266.0" y2="277.79999999999995" stroke="#666" stroke-width="0.6"/>
<line x1="267.1" y1="276.4" x2="267.1" y2="277.79999999999995" stroke="#666" stroke-width="0.6"/>
<line x1="268.0" y1="276.4" x2="268.0" y2="277.79999999999995" stroke="#666" stroke-width="0.6"/>
<line x1="268.8" y1="276.4" x2="268.8" y2="277.79999999999995" stroke="#666" stroke-width="0.6"/>
<line x1="275.5" y1="276.4" x2="275.5" y2="277.79999999999995" stroke="#666" stroke-width="0.6"/>
<line x1="279.1" y1="276.4" x2="279.1" y2="277.79999999999995" stroke="#666" stroke-width="0.6"/>
<line x1="281.6" y1="276.4" x2="281.6" y2="277.79999999999995" stroke="#666" stroke-width="0.6"/>
<line x1="283.6" y1="276.4" x2="283.6" y2="277.79999999999995" stroke="#666" stroke-width="0.6"/>
<line x1="285.2" y1="276.4" x2="285.2" y2="277.79999999999995" stroke="#666" stroke-width="0.6"/>
<line x1="286.5" y1="276.4" x2="286.5" y2="277.79999999999995" stroke="#666" stroke-width="0.6"/>
<line x1="287.7" y1="276.4" x2="287.7" y2="277.79999999999995" stroke="#666" stroke-width="0.6"/>
<line x1="288.7" y1="276.4" x2="288.7" y2="277.79999999999995" stroke="#666" stroke-width="0.6"/>
<line x1="295.5" y1="276.4" x2="295.5" y2="277.79999999999995" stroke="#666" stroke-width="0.6"/>
<line x1="298.9" y1="276.4" x2="298.9" y2="277.79999999999995" stroke="#666" stroke-width="0.6"/>
<line x1="301.3" y1="276.4" x2="301.3" y2="277.79999999999995" stroke="#666" stroke-width="0.6"/>
<line x1="303.1" y1="276.4" x2="303.1" y2="277.79999999999995" stroke="#666" stroke-width="0.6"/>
<line x1="304.7" y1="276.4" x2="304.7" y2="277.79999999999995" stroke="#666" stroke-width="0.6"/>
<line x1="306.0" y1="276.4" x2="306.0" y2="277.79999999999995" stroke="#666" stroke-width="0.6"/>
<line x1="307.1" y1="276.4" x2="307.1" y2="277.79999999999995" stroke="#666" stroke-width="0.6"/>
<line x1="308.1" y1="276.4" x2="308.1" y2="277.79999999999995" stroke="#666" stroke-width="0.6"/>
<line x1="314.7" y1="276.4" x2="314.7" y2="277.79999999999995" stroke="#666" stroke-width="0.6"/>
<line x1="318.1" y1="276.4" x2="318.1" y2="277.79999999999995" stroke="#666" stroke-width="0.6"/>
<line x1="320.5" y1="276.4" x2="320.5" y2="277.79999999999995" stroke="#666" stroke-width="0.6"/>
<line x1="322.4" y1="276.4" x2="322.4" y2="277.79999999999995" stroke="#666" stroke-width="0.6"/>
<line x1="323.9" y1="276.4" x2="323.9" y2="277.79999999999995" stroke="#666" stroke-width="0.6"/>
<line x1="325.2" y1="276.4" x2="325.2" y2="277.79999999999995" stroke="#666" stroke-width="0.6"/>
<line x1="326.4" y1="276.4" x2="326.4" y2="277.79999999999995" stroke="#666" stroke-width="0.6"/>
<line x1="327.3" y1="276.4" x2="327.3" y2="277.79999999999995" stroke="#666" stroke-width="0.6"/>
<path d="M245.6,276.4 L248.3,272.0 L250.9,261.4 L253.2,245.5 L255.3,233.1 L257.1,230.5 L258.9,227.9 L261.2,224.3 L263.3,227.0 L265.0,233.1 L266.3,249.0 L267.7,263.1 L269.5,269.3 L272.1,272.0 L275.6,275.5 L280.9,276.4 L283.9,272.0 L286.7,266.7 L289.2,264.9 L292.0,261.0 L294.1,264.9 L295.6,272.0 L297.7,276.4 L297.7,276.4 L245.6,276.4 Z" fill="#9b9b9b" stroke="none"/>
<path d="M245.6,276.4 L248.3,272.0 L250.9,261.4 L253.2,245.5 L255.3,233.1 L257.1,230.5 L258.9,227.9 L261.2,224.3 L263.3,227.0 L265.0,233.1 L266.3,249.0 L267.7,263.1 L269.5,269.3 L272.1,272.0 L275.6,275.5 L280.9,276.4 L283.9,272.0 L286.7,266.7 L289.2,264.9 L292.0,261.0 L294.1,264.9 L295.6,272.0 L297.7,276.4" fill="none" stroke="#2a2a2a" stroke-width="0.9" stroke-linejoin="round"/>
<line x1="282.2" y1="254.8" x2="326.4" y2="254.8" stroke="#333" stroke-width="1.05"/>
<line x1="282.2" y1="252.9" x2="282.2" y2="256.7" stroke="#555" stroke-width="1.1"/>
<line x1="326.4" y1="252.9" x2="326.4" y2="256.7" stroke="#555" stroke-width="1.1"/>
<text x="303.2" y="247.3" font-size="12.2" font-weight="normal" text-anchor="middle" textLength="22.6" lengthAdjust="spacingAndGlyphs" style="stroke-width:0.42px">13.9</text>
<text x="284.0" y="180.0" font-size="11.7" font-weight="normal" text-anchor="start" textLength="17.0" lengthAdjust="spacingAndGlyphs" style="stroke-width:0.42px">HD</text>
<rect x="342.6" y="185.3" width="92.29999999999995" height="91.09999999999997" fill="none" stroke="#999999" stroke-width="1"/>
<line x1="339.6" y1="190.29999999999998" x2="342.6" y2="190.29999999999998" stroke="#555" stroke-width="0.9"/>
<line x1="339.6" y1="218.99999999999997" x2="342.6" y2="218.99999999999997" stroke="#555" stroke-width="0.9"/>
<line x1="339.6" y1="247.7" x2="342.6" y2="247.7" stroke="#555" stroke-width="0.9"/>
<line x1="339.6" y1="276.4" x2="342.6" y2="276.4" stroke="#555" stroke-width="0.9"/>
<line x1="341.0" y1="196.0" x2="342.6" y2="196.0" stroke="#888" stroke-width="0.6"/>
<line x1="341.0" y1="201.8" x2="342.6" y2="201.8" stroke="#888" stroke-width="0.6"/>
<line x1="341.0" y1="207.5" x2="342.6" y2="207.5" stroke="#888" stroke-width="0.6"/>
<line x1="341.0" y1="213.3" x2="342.6" y2="213.3" stroke="#888" stroke-width="0.6"/>
<line x1="341.0" y1="224.7" x2="342.6" y2="224.7" stroke="#888" stroke-width="0.6"/>
<line x1="341.0" y1="230.5" x2="342.6" y2="230.5" stroke="#888" stroke-width="0.6"/>
<line x1="341.0" y1="236.2" x2="342.6" y2="236.2" stroke="#888" stroke-width="0.6"/>
<line x1="341.0" y1="242.0" x2="342.6" y2="242.0" stroke="#888" stroke-width="0.6"/>
<line x1="341.0" y1="253.4" x2="342.6" y2="253.4" stroke="#888" stroke-width="0.6"/>
<line x1="341.0" y1="259.2" x2="342.6" y2="259.2" stroke="#888" stroke-width="0.6"/>
<line x1="341.0" y1="264.9" x2="342.6" y2="264.9" stroke="#888" stroke-width="0.6"/>
<line x1="341.0" y1="270.7" x2="342.6" y2="270.7" stroke="#888" stroke-width="0.6"/>
<line x1="350.9" y1="276.4" x2="350.9" y2="278.9" stroke="#666" stroke-width="0.9"/>
<line x1="366.6" y1="276.4" x2="366.6" y2="278.9" stroke="#666" stroke-width="0.9"/>
<line x1="386.9" y1="276.4" x2="386.9" y2="278.9" stroke="#666" stroke-width="0.9"/>
<line x1="406.3" y1="276.4" x2="406.3" y2="278.9" stroke="#666" stroke-width="0.9"/>
<line x1="425.7" y1="276.4" x2="425.7" y2="278.9" stroke="#666" stroke-width="0.9"/>
<line x1="355.6" y1="276.4" x2="355.6" y2="277.79999999999995" stroke="#666" stroke-width="0.6"/>
<line x1="358.4" y1="276.4" x2="358.4" y2="277.79999999999995" stroke="#666" stroke-width="0.6"/>
<line x1="360.4" y1="276.4" x2="360.4" y2="277.79999999999995" stroke="#666" stroke-width="0.6"/>
<line x1="361.9" y1="276.4" x2="361.9" y2="277.79999999999995" stroke="#666" stroke-width="0.6"/>
<line x1="363.1" y1="276.4" x2="363.1" y2="277.79999999999995" stroke="#666" stroke-width="0.6"/>
<line x1="364.2" y1="276.4" x2="364.2" y2="277.79999999999995" stroke="#666" stroke-width="0.6"/>
<line x1="365.1" y1="276.4" x2="365.1" y2="277.79999999999995" stroke="#666" stroke-width="0.6"/>
<line x1="365.9" y1="276.4" x2="365.9" y2="277.79999999999995" stroke="#666" stroke-width="0.6"/>
<line x1="372.7" y1="276.4" x2="372.7" y2="277.79999999999995" stroke="#666" stroke-width="0.6"/>
<line x1="376.3" y1="276.4" x2="376.3" y2="277.79999999999995" stroke="#666" stroke-width="0.6"/>
<line x1="378.8" y1="276.4" x2="378.8" y2="277.79999999999995" stroke="#666" stroke-width="0.6"/>
<line x1="380.8" y1="276.4" x2="380.8" y2="277.79999999999995" stroke="#666" stroke-width="0.6"/>
<line x1="382.4" y1="276.4" x2="382.4" y2="277.79999999999995" stroke="#666" stroke-width="0.6"/>
<line x1="383.8" y1="276.4" x2="383.8" y2="277.79999999999995" stroke="#666" stroke-width="0.6"/>
<line x1="384.9" y1="276.4" x2="384.9" y2="277.79999999999995" stroke="#666" stroke-width="0.6"/>
<line x1="386.0" y1="276.4" x2="386.0" y2="277.79999999999995" stroke="#666" stroke-width="0.6"/>
<line x1="392.7" y1="276.4" x2="392.7" y2="277.79999999999995" stroke="#666" stroke-width="0.6"/>
<line x1="396.2" y1="276.4" x2="396.2" y2="277.79999999999995" stroke="#666" stroke-width="0.6"/>
<line x1="398.6" y1="276.4" x2="398.6" y2="277.79999999999995" stroke="#666" stroke-width="0.6"/>
<line x1="400.5" y1="276.4" x2="400.5" y2="277.79999999999995" stroke="#666" stroke-width="0.6"/>
<line x1="402.0" y1="276.4" x2="402.0" y2="277.79999999999995" stroke="#666" stroke-width="0.6"/>
<line x1="403.3" y1="276.4" x2="403.3" y2="277.79999999999995" stroke="#666" stroke-width="0.6"/>
<line x1="404.4" y1="276.4" x2="404.4" y2="277.79999999999995" stroke="#666" stroke-width="0.6"/>
<line x1="405.4" y1="276.4" x2="405.4" y2="277.79999999999995" stroke="#666" stroke-width="0.6"/>
<line x1="412.1" y1="276.4" x2="412.1" y2="277.79999999999995" stroke="#666" stroke-width="0.6"/>
<line x1="415.5" y1="276.4" x2="415.5" y2="277.79999999999995" stroke="#666" stroke-width="0.6"/>
<line x1="418.0" y1="276.4" x2="418.0" y2="277.79999999999995" stroke="#666" stroke-width="0.6"/>
<line x1="419.8" y1="276.4" x2="419.8" y2="277.79999999999995" stroke="#666" stroke-width="0.6"/>
<line x1="421.4" y1="276.4" x2="421.4" y2="277.79999999999995" stroke="#666" stroke-width="0.6"/>
<line x1="422.7" y1="276.4" x2="422.7" y2="277.79999999999995" stroke="#666" stroke-width="0.6"/>
<line x1="423.8" y1="276.4" x2="423.8" y2="277.79999999999995" stroke="#666" stroke-width="0.6"/>
<line x1="424.8" y1="276.4" x2="424.8" y2="277.79999999999995" stroke="#666" stroke-width="0.6"/>
<path d="M345.2,276.4 L347.8,272.0 L349.9,263.1 L352.2,249.0 L354.0,239.3 L355.8,238.1 L357.5,233.1 L358.8,238.4 L360.5,245.5 L362.3,256.1 L364.0,266.7 L366.3,272.8 L369.9,274.1 L374.3,274.6 L377.8,275.5 L381.3,275.1 L383.4,270.2 L385.2,259.6 L386.6,240.2 L388.0,217.3 L389.3,203.2 L390.7,198.2 L391.9,201.4 L393.0,213.7 L394.0,234.9 L395.1,256.1 L396.3,270.2 L398.1,275.5 L399.5,276.4 L399.5,276.4 L345.2,276.4 Z" fill="#9b9b9b" stroke="none"/>
<path d="M345.2,276.4 L347.8,272.0 L349.9,263.1 L352.2,249.0 L354.0,239.3 L355.8,238.1 L357.5,233.1 L358.8,238.4 L360.5,245.5 L362.3,256.1 L364.0,266.7 L366.3,272.8 L369.9,274.1 L374.3,274.6 L377.8,275.5 L381.3,275.1 L383.4,270.2 L385.2,259.6 L386.6,240.2 L388.0,217.3 L389.3,203.2 L390.7,198.2 L391.9,201.4 L393.0,213.7 L394.0,234.9 L395.1,256.1 L396.3,270.2 L398.1,275.5 L399.5,276.4" fill="none" stroke="#2a2a2a" stroke-width="0.9" stroke-linejoin="round"/>
<line x1="376.6" y1="254.8" x2="422.8" y2="254.8" stroke="#333" stroke-width="1.05"/>
<line x1="376.6" y1="252.9" x2="376.6" y2="256.7" stroke="#555" stroke-width="1.1"/>
<line x1="422.8" y1="252.9" x2="422.8" y2="256.7" stroke="#555" stroke-width="1.1"/>
<text x="407.2" y="247.3" font-size="12.2" font-weight="normal" text-anchor="middle" textLength="22.6" lengthAdjust="spacingAndGlyphs" style="stroke-width:0.42px">49.7</text>
<text x="374.9" y="180.0" font-size="11.7" font-weight="normal" text-anchor="start" textLength="24.0" lengthAdjust="spacingAndGlyphs" style="stroke-width:0.42px">AML</text>
<text x="-1" y="82.7" font-size="12" font-weight="bold" text-anchor="start" textLength="24" lengthAdjust="spacingAndGlyphs" style="stroke-width:0.1px">CD4</text>
<text x="-1" y="237.6" font-size="12" font-weight="bold" text-anchor="start" textLength="24" lengthAdjust="spacingAndGlyphs" style="stroke-width:0.1px">CD8</text>
<line x1="40" y1="40.0" x2="40" y2="70" stroke="#6e6e6e" stroke-width="1.5"/>
<path d="M40,32.6 L37.2,40.5 L42.8,40.5 Z" fill="#000"/>
<text transform="translate(43.4,100.5) rotate(-90)" x="0" y="0" font-size="11.5" font-weight="normal" text-anchor="middle" textLength="36.4" lengthAdjust="spacingAndGlyphs">Counts</text>
<line x1="39.4" y1="194.1" x2="39.4" y2="225" stroke="#000" stroke-width="1.3"/>
<path d="M39.4,187.1 L36.5,194.6 L42.3,194.6 Z" fill="#000"/>
<text transform="translate(43.4,255.2) rotate(-90)" x="0" y="0" font-size="11.5" font-weight="normal" text-anchor="middle" textLength="36.3" lengthAdjust="spacingAndGlyphs" style="stroke-width:0.55px">Counts</text>
<text x="52" y="140.8" font-size="11.8" font-weight="normal" text-anchor="start" textLength="78" lengthAdjust="spacingAndGlyphs" >Blimp-1 mRNA</text>
<line x1="139.5" y1="135.9" x2="246.8" y2="135.9" stroke="#6e6e6e" stroke-width="1.5"/>
<path d="M254.8,135.9 L246.3,133.1 L246.3,138.70000000000002 Z" fill="#000"/>
<text x="52" y="295.6" font-size="11.8" font-weight="normal" text-anchor="start" textLength="77.6" lengthAdjust="spacingAndGlyphs" style="stroke-width:0.42px">Blimp-1 mRNA</text>
<line x1="140.2" y1="290.8" x2="246.5" y2="290.8" stroke="#000" stroke-width="1.3"/>
<path d="M254.2,290.8 L246.0,288.0 L246.0,293.6 Z" fill="#000"/>
<rect x="93.2" y="348.3" width="92.39999999999999" height="92.5" fill="none" stroke="#999999" stroke-width="1"/>
<line x1="90.2" y1="351.8" x2="93.2" y2="351.8" stroke="#555" stroke-width="0.9"/>
<line x1="90.2" y1="369.6" x2="93.2" y2="369.6" stroke="#555" stroke-width="0.9"/>
<line x1="90.2" y1="387.4" x2="93.2" y2="387.4" stroke="#555" stroke-width="0.9"/>
<line x1="90.2" y1="405.2" x2="93.2" y2="405.2" stroke="#555" stroke-width="0.9"/>
<line x1="90.2" y1="423.0" x2="93.2" y2="423.0" stroke="#555" stroke-width="0.9"/>
<line x1="90.2" y1="440.8" x2="93.2" y2="440.8" stroke="#555" stroke-width="0.9"/>
<line x1="91.60000000000001" y1="355.4" x2="93.2" y2="355.4" stroke="#888" stroke-width="0.6"/>
<line x1="91.60000000000001" y1="358.9" x2="93.2" y2="358.9" stroke="#888" stroke-width="0.6"/>
<line x1="91.60000000000001" y1="362.5" x2="93.2" y2="362.5" stroke="#888" stroke-width="0.6"/>
<line x1="91.60000000000001" y1="366.0" x2="93.2" y2="366.0" stroke="#888" stroke-width="0.6"/>
<line x1="91.60000000000001" y1="373.2" x2="93.2" y2="373.2" stroke="#888" stroke-width="0.6"/>
<line x1="91.60000000000001" y1="376.7" x2="93.2" y2="376.7" stroke="#888" stroke-width="0.6"/>
<line x1="91.60000000000001" y1="380.3" x2="93.2" y2="380.3" stroke="#888" stroke-width="0.6"/>
<line x1="91.60000000000001" y1="383.8" x2="93.2" y2="383.8" stroke="#888" stroke-width="0.6"/>
<line x1="91.60000000000001" y1="391.0" x2="93.2" y2="391.0" stroke="#888" stroke-width="0.6"/>
<line x1="91.60000000000001" y1="394.5" x2="93.2" y2="394.5" stroke="#888" stroke-width="0.6"/>
<line x1="91.60000000000001" y1="398.1" x2="93.2" y2="398.1" stroke="#888" stroke-width="0.6"/>
<line x1="91.60000000000001" y1="401.6" x2="93.2" y2="401.6" stroke="#888" stroke-width="0.6"/>
<line x1="91.60000000000001" y1="408.8" x2="93.2" y2="408.8" stroke="#888" stroke-width="0.6"/>
<line x1="91.60000000000001" y1="412.3" x2="93.2" y2="412.3" stroke="#888" stroke-width="0.6"/>
<line x1="91.60000000000001" y1="415.9" x2="93.2" y2="415.9" stroke="#888" stroke-width="0.6"/>
<line x1="91.60000000000001" y1="419.4" x2="93.2" y2="419.4" stroke="#888" stroke-width="0.6"/>
<line x1="91.60000000000001" y1="426.6" x2="93.2" y2="426.6" stroke="#888" stroke-width="0.6"/>
<line x1="91.60000000000001" y1="430.1" x2="93.2" y2="430.1" stroke="#888" stroke-width="0.6"/>
<line x1="91.60000000000001" y1="433.7" x2="93.2" y2="433.7" stroke="#888" stroke-width="0.6"/>
<line x1="91.60000000000001" y1="437.2" x2="93.2" y2="437.2" stroke="#888" stroke-width="0.6"/>
<line x1="110.8" y1="440.8" x2="110.8" y2="443.3" stroke="#666" stroke-width="0.9"/>
<line x1="131.1" y1="440.8" x2="131.1" y2="443.3" stroke="#666" stroke-width="0.9"/>
<line x1="155.1" y1="440.8" x2="155.1" y2="443.3" stroke="#666" stroke-width="0.9"/>
<line x1="176.4" y1="440.8" x2="176.4" y2="443.3" stroke="#666" stroke-width="0.9"/>
<line x1="116.9" y1="440.8" x2="116.9" y2="442.2" stroke="#666" stroke-width="0.6"/>
<line x1="120.5" y1="440.8" x2="120.5" y2="442.2" stroke="#666" stroke-width="0.6"/>
<line x1="123.0" y1="440.8" x2="123.0" y2="442.2" stroke="#666" stroke-width="0.6"/>
<line x1="125.0" y1="440.8" x2="125.0" y2="442.2" stroke="#666" stroke-width="0.6"/>
<line x1="126.6" y1="440.8" x2="126.6" y2="442.2" stroke="#666" stroke-width="0.6"/>
<line x1="127.9" y1="440.8" x2="127.9" y2="442.2" stroke="#666" stroke-width="0.6"/>
<line x1="129.1" y1="440.8" x2="129.1" y2="442.2" stroke="#666" stroke-width="0.6"/>
<line x1="130.2" y1="440.8" x2="130.2" y2="442.2" stroke="#666" stroke-width="0.6"/>
<line x1="138.3" y1="440.8" x2="138.3" y2="442.2" stroke="#666" stroke-width="0.6"/>
<line x1="142.5" y1="440.8" x2="142.5" y2="442.2" stroke="#666" stroke-width="0.6"/>
<line x1="145.5" y1="440.8" x2="145.5" y2="442.2" stroke="#666" stroke-width="0.6"/>
<line x1="147.9" y1="440.8" x2="147.9" y2="442.2" stroke="#666" stroke-width="0.6"/>
<line x1="149.8" y1="440.8" x2="149.8" y2="442.2" stroke="#666" stroke-width="0.6"/>
<line x1="151.4" y1="440.8" x2="151.4" y2="442.2" stroke="#666" stroke-width="0.6"/>
<line x1="152.8" y1="440.8" x2="152.8" y2="442.2" stroke="#666" stroke-width="0.6"/>
<line x1="154.0" y1="440.8" x2="154.0" y2="442.2" stroke="#666" stroke-width="0.6"/>
<line x1="161.5" y1="440.8" x2="161.5" y2="442.2" stroke="#666" stroke-width="0.6"/>
<line x1="165.2" y1="440.8" x2="165.2" y2="442.2" stroke="#666" stroke-width="0.6"/>
<line x1="167.9" y1="440.8" x2="167.9" y2="442.2" stroke="#666" stroke-width="0.6"/>
<line x1="170.0" y1="440.8" x2="170.0" y2="442.2" stroke="#666" stroke-width="0.6"/>
<line x1="171.6" y1="440.8" x2="171.6" y2="442.2" stroke="#666" stroke-width="0.6"/>
<line x1="173.1" y1="440.8" x2="173.1" y2="442.2" stroke="#666" stroke-width="0.6"/>
<line x1="174.3" y1="440.8" x2="174.3" y2="442.2" stroke="#666" stroke-width="0.6"/>
<line x1="175.4" y1="440.8" x2="175.4" y2="442.2" stroke="#666" stroke-width="0.6"/>
<path d="M93.5,440.8 L100.6,440.2 L105.9,438.5 L109.4,435.0 L112.0,429.7 L114.3,415.5 L116.5,394.4 L118.2,375.0 L120.0,359.1 L122.1,352.9 L123.9,359.1 L125.3,375.0 L126.7,394.4 L127.9,412.0 L129.2,424.4 L130.9,433.2 L134.1,437.6 L139.4,439.9 L146.4,440.8 L146.4,440.8 L93.5,440.8 Z" fill="#9b9b9b" stroke="none"/>
<path d="M93.5,440.8 L100.6,440.2 L105.9,438.5 L109.4,435.0 L112.0,429.7 L114.3,415.5 L116.5,394.4 L118.2,375.0 L120.0,359.1 L122.1,352.9 L123.9,359.1 L125.3,375.0 L126.7,394.4 L127.9,412.0 L129.2,424.4 L130.9,433.2 L134.1,437.6 L139.4,439.9 L146.4,440.8" fill="none" stroke="#2a2a2a" stroke-width="0.9" stroke-linejoin="round"/>
<line x1="135.5" y1="421.4" x2="169.7" y2="421.4" stroke="#333" stroke-width="1.05"/>
<line x1="135.5" y1="419.5" x2="135.5" y2="423.29999999999995" stroke="#555" stroke-width="1.1"/>
<line x1="169.7" y1="419.5" x2="169.7" y2="423.29999999999995" stroke="#555" stroke-width="1.1"/>
<text x="152.4" y="412.9" font-size="12.2" font-weight="normal" text-anchor="middle" textLength="22.8" lengthAdjust="spacingAndGlyphs" style="stroke-width:0.42px">0.58</text>
<text x="128.3" y="344" font-size="12" font-weight="normal" text-anchor="start" textLength="15.3" lengthAdjust="spacingAndGlyphs" style="stroke-width:0.42px">Iso</text>
<rect x="194.4" y="348.3" width="92.20000000000002" height="92.5" fill="none" stroke="#999999" stroke-width="1"/>
<line x1="191.4" y1="358.0" x2="194.4" y2="358.0" stroke="#555" stroke-width="0.9"/>
<line x1="191.4" y1="378.70000000000005" x2="194.4" y2="378.70000000000005" stroke="#555" stroke-width="0.9"/>
<line x1="191.4" y1="399.40000000000003" x2="194.4" y2="399.40000000000003" stroke="#555" stroke-width="0.9"/>
<line x1="191.4" y1="420.1" x2="194.4" y2="420.1" stroke="#555" stroke-width="0.9"/>
<line x1="191.4" y1="440.8" x2="194.4" y2="440.8" stroke="#555" stroke-width="0.9"/>
<line x1="192.8" y1="362.1" x2="194.4" y2="362.1" stroke="#888" stroke-width="0.6"/>
<line x1="192.8" y1="366.3" x2="194.4" y2="366.3" stroke="#888" stroke-width="0.6"/>
<line x1="192.8" y1="370.4" x2="194.4" y2="370.4" stroke="#888" stroke-width="0.6"/>
<line x1="192.8" y1="374.6" x2="194.4" y2="374.6" stroke="#888" stroke-width="0.6"/>
<line x1="192.8" y1="382.8" x2="194.4" y2="382.8" stroke="#888" stroke-width="0.6"/>
<line x1="192.8" y1="387.0" x2="194.4" y2="387.0" stroke="#888" stroke-width="0.6"/>
<line x1="192.8" y1="391.1" x2="194.4" y2="391.1" stroke="#888" stroke-width="0.6"/>
<line x1="192.8" y1="395.3" x2="194.4" y2="395.3" stroke="#888" stroke-width="0.6"/>
<line x1="192.8" y1="403.5" x2="194.4" y2="403.5" stroke="#888" stroke-width="0.6"/>
<line x1="192.8" y1="407.7" x2="194.4" y2="407.7" stroke="#888" stroke-width="0.6"/>
<line x1="192.8" y1="411.8" x2="194.4" y2="411.8" stroke="#888" stroke-width="0.6"/>
<line x1="192.8" y1="416.0" x2="194.4" y2="416.0" stroke="#888" stroke-width="0.6"/>
<line x1="192.8" y1="424.2" x2="194.4" y2="424.2" stroke="#888" stroke-width="0.6"/>
<line x1="192.8" y1="428.4" x2="194.4" y2="428.4" stroke="#888" stroke-width="0.6"/>
<line x1="192.8" y1="432.5" x2="194.4" y2="432.5" stroke="#888" stroke-width="0.6"/>
<line x1="192.8" y1="436.7" x2="194.4" y2="436.7" stroke="#888" stroke-width="0.6"/>
<line x1="211.9" y1="440.8" x2="211.9" y2="443.3" stroke="#666" stroke-width="0.9"/>
<line x1="232.2" y1="440.8" x2="232.2" y2="443.3" stroke="#666" stroke-width="0.9"/>
<line x1="256.2" y1="440.8" x2="256.2" y2="443.3" stroke="#666" stroke-width="0.9"/>
<line x1="277.4" y1="440.8" x2="277.4" y2="443.3" stroke="#666" stroke-width="0.9"/>
<line x1="218.0" y1="440.8" x2="218.0" y2="442.2" stroke="#666" stroke-width="0.6"/>
<line x1="221.6" y1="440.8" x2="221.6" y2="442.2" stroke="#666" stroke-width="0.6"/>
<line x1="224.1" y1="440.8" x2="224.1" y2="442.2" stroke="#666" stroke-width="0.6"/>
<line x1="226.1" y1="440.8" x2="226.1" y2="442.2" stroke="#666" stroke-width="0.6"/>
<line x1="227.7" y1="440.8" x2="227.7" y2="442.2" stroke="#666" stroke-width="0.6"/>
<line x1="229.1" y1="440.8" x2="229.1" y2="442.2" stroke="#666" stroke-width="0.6"/>
<line x1="230.2" y1="440.8" x2="230.2" y2="442.2" stroke="#666" stroke-width="0.6"/>
<line x1="231.3" y1="440.8" x2="231.3" y2="442.2" stroke="#666" stroke-width="0.6"/>
<line x1="239.4" y1="440.8" x2="239.4" y2="442.2" stroke="#666" stroke-width="0.6"/>
<line x1="243.6" y1="440.8" x2="243.6" y2="442.2" stroke="#666" stroke-width="0.6"/>
<line x1="246.6" y1="440.8" x2="246.6" y2="442.2" stroke="#666" stroke-width="0.6"/>
<line x1="249.0" y1="440.8" x2="249.0" y2="442.2" stroke="#666" stroke-width="0.6"/>
<line x1="250.9" y1="440.8" x2="250.9" y2="442.2" stroke="#666" stroke-width="0.6"/>
<line x1="252.5" y1="440.8" x2="252.5" y2="442.2" stroke="#666" stroke-width="0.6"/>
<line x1="253.9" y1="440.8" x2="253.9" y2="442.2" stroke="#666" stroke-width="0.6"/>
<line x1="255.1" y1="440.8" x2="255.1" y2="442.2" stroke="#666" stroke-width="0.6"/>
<line x1="262.6" y1="440.8" x2="262.6" y2="442.2" stroke="#666" stroke-width="0.6"/>
<line x1="266.3" y1="440.8" x2="266.3" y2="442.2" stroke="#666" stroke-width="0.6"/>
<line x1="268.9" y1="440.8" x2="268.9" y2="442.2" stroke="#666" stroke-width="0.6"/>
<line x1="271.0" y1="440.8" x2="271.0" y2="442.2" stroke="#666" stroke-width="0.6"/>
<line x1="272.7" y1="440.8" x2="272.7" y2="442.2" stroke="#666" stroke-width="0.6"/>
<line x1="274.1" y1="440.8" x2="274.1" y2="442.2" stroke="#666" stroke-width="0.6"/>
<line x1="275.3" y1="440.8" x2="275.3" y2="442.2" stroke="#666" stroke-width="0.6"/>
<line x1="276.4" y1="440.8" x2="276.4" y2="442.2" stroke="#666" stroke-width="0.6"/>
<path d="M194.4,440.8 L200.6,440.2 L206.8,437.6 L211.2,433.2 L214.3,426.1 L216.5,415.5 L218.2,412.0 L220.0,406.7 L221.4,397.9 L222.6,389.1 L224.4,376.7 L226.2,367.9 L227.9,356.5 L229.2,362.6 L230.6,370.6 L232.0,376.7 L233.2,387.3 L235.0,397.9 L236.7,410.3 L238.5,412.9 L240.3,415.5 L242.0,420.8 L243.8,429.7 L246.4,435.8 L250.0,439.4 L253.5,440.8 L253.5,440.8 L194.4,440.8 Z" fill="#9b9b9b" stroke="none"/>
<path d="M194.4,440.8 L200.6,440.2 L206.8,437.6 L211.2,433.2 L214.3,426.1 L216.5,415.5 L218.2,412.0 L220.0,406.7 L221.4,397.9 L222.6,389.1 L224.4,376.7 L226.2,367.9 L227.9,356.5 L229.2,362.6 L230.6,370.6 L232.0,376.7 L233.2,387.3 L235.0,397.9 L236.7,410.3 L238.5,412.9 L240.3,415.5 L242.0,420.8 L243.8,429.7 L246.4,435.8 L250.0,439.4 L253.5,440.8" fill="none" stroke="#2a2a2a" stroke-width="0.9" stroke-linejoin="round"/>
<line x1="237.3" y1="421.2" x2="270.8" y2="421.2" stroke="#333" stroke-width="1.05"/>
<line x1="237.3" y1="419.3" x2="237.3" y2="423.09999999999997" stroke="#555" stroke-width="1.1"/>
<line x1="270.8" y1="419.3" x2="270.8" y2="423.09999999999997" stroke="#555" stroke-width="1.1"/>
<text x="254.8" y="412.9" font-size="12.2" font-weight="normal" text-anchor="middle" textLength="22.8" lengthAdjust="spacingAndGlyphs" style="stroke-width:0.42px">17.2</text>
<text x="230.7" y="344" font-size="12" font-weight="normal" text-anchor="start" textLength="16.6" lengthAdjust="spacingAndGlyphs" style="stroke-width:0.42px">HD</text>
<rect x="297.3" y="348.3" width="92.30000000000001" height="92.5" fill="none" stroke="#999999" stroke-width="1"/>
<line x1="294.3" y1="362.8" x2="297.3" y2="362.8" stroke="#555" stroke-width="0.9"/>
<line x1="294.3" y1="388.8" x2="297.3" y2="388.8" stroke="#555" stroke-width="0.9"/>
<line x1="294.3" y1="414.8" x2="297.3" y2="414.8" stroke="#555" stroke-width="0.9"/>
<line x1="294.3" y1="440.8" x2="297.3" y2="440.8" stroke="#555" stroke-width="0.9"/>
<line x1="295.7" y1="368.0" x2="297.3" y2="368.0" stroke="#888" stroke-width="0.6"/>
<line x1="295.7" y1="373.2" x2="297.3" y2="373.2" stroke="#888" stroke-width="0.6"/>
<line x1="295.7" y1="378.4" x2="297.3" y2="378.4" stroke="#888" stroke-width="0.6"/>
<line x1="295.7" y1="383.6" x2="297.3" y2="383.6" stroke="#888" stroke-width="0.6"/>
<line x1="295.7" y1="394.0" x2="297.3" y2="394.0" stroke="#888" stroke-width="0.6"/>
<line x1="295.7" y1="399.2" x2="297.3" y2="399.2" stroke="#888" stroke-width="0.6"/>
<line x1="295.7" y1="404.4" x2="297.3" y2="404.4" stroke="#888" stroke-width="0.6"/>
<line x1="295.7" y1="409.6" x2="297.3" y2="409.6" stroke="#888" stroke-width="0.6"/>
<line x1="295.7" y1="420.0" x2="297.3" y2="420.0" stroke="#888" stroke-width="0.6"/>
<line x1="295.7" y1="425.2" x2="297.3" y2="425.2" stroke="#888" stroke-width="0.6"/>
<line x1="295.7" y1="430.4" x2="297.3" y2="430.4" stroke="#888" stroke-width="0.6"/>
<line x1="295.7" y1="435.6" x2="297.3" y2="435.6" stroke="#888" stroke-width="0.6"/>
<line x1="314.8" y1="440.8" x2="314.8" y2="443.3" stroke="#666" stroke-width="0.9"/>
<line x1="335.1" y1="440.8" x2="335.1" y2="443.3" stroke="#666" stroke-width="0.9"/>
<line x1="359.1" y1="440.8" x2="359.1" y2="443.3" stroke="#666" stroke-width="0.9"/>
<line x1="380.4" y1="440.8" x2="380.4" y2="443.3" stroke="#666" stroke-width="0.9"/>
<line x1="320.9" y1="440.8" x2="320.9" y2="442.2" stroke="#666" stroke-width="0.6"/>
<line x1="324.5" y1="440.8" x2="324.5" y2="442.2" stroke="#666" stroke-width="0.6"/>
<line x1="327.1" y1="440.8" x2="327.1" y2="442.2" stroke="#666" stroke-width="0.6"/>
<line x1="329.0" y1="440.8" x2="329.0" y2="442.2" stroke="#666" stroke-width="0.6"/>
<line x1="330.6" y1="440.8" x2="330.6" y2="442.2" stroke="#666" stroke-width="0.6"/>
<line x1="332.0" y1="440.8" x2="332.0" y2="442.2" stroke="#666" stroke-width="0.6"/>
<line x1="333.2" y1="440.8" x2="333.2" y2="442.2" stroke="#666" stroke-width="0.6"/>
<line x1="334.2" y1="440.8" x2="334.2" y2="442.2" stroke="#666" stroke-width="0.6"/>
<line x1="342.4" y1="440.8" x2="342.4" y2="442.2" stroke="#666" stroke-width="0.6"/>
<line x1="346.6" y1="440.8" x2="346.6" y2="442.2" stroke="#666" stroke-width="0.6"/>
<line x1="349.6" y1="440.8" x2="349.6" y2="442.2" stroke="#666" stroke-width="0.6"/>
<line x1="351.9" y1="440.8" x2="351.9" y2="442.2" stroke="#666" stroke-width="0.6"/>
<line x1="353.8" y1="440.8" x2="353.8" y2="442.2" stroke="#666" stroke-width="0.6"/>
<line x1="355.4" y1="440.8" x2="355.4" y2="442.2" stroke="#666" stroke-width="0.6"/>
<line x1="356.8" y1="440.8" x2="356.8" y2="442.2" stroke="#666" stroke-width="0.6"/>
<line x1="358.0" y1="440.8" x2="358.0" y2="442.2" stroke="#666" stroke-width="0.6"/>
<line x1="365.5" y1="440.8" x2="365.5" y2="442.2" stroke="#666" stroke-width="0.6"/>
<line x1="369.3" y1="440.8" x2="369.3" y2="442.2" stroke="#666" stroke-width="0.6"/>
<line x1="371.9" y1="440.8" x2="371.9" y2="442.2" stroke="#666" stroke-width="0.6"/>
<line x1="374.0" y1="440.8" x2="374.0" y2="442.2" stroke="#666" stroke-width="0.6"/>
<line x1="375.7" y1="440.8" x2="375.7" y2="442.2" stroke="#666" stroke-width="0.6"/>
<line x1="377.1" y1="440.8" x2="377.1" y2="442.2" stroke="#666" stroke-width="0.6"/>
<line x1="378.3" y1="440.8" x2="378.3" y2="442.2" stroke="#666" stroke-width="0.6"/>
<line x1="379.4" y1="440.8" x2="379.4" y2="442.2" stroke="#666" stroke-width="0.6"/>
<path d="M297.4,440.8 L303.6,439.9 L309.8,437.6 L315.0,433.2 L318.6,427.9 L321.2,420.8 L323.9,412.0 L325.6,403.2 L327.4,392.6 L329.2,380.3 L330.9,367.9 L332.7,362.6 L334.4,358.2 L335.9,364.4 L337.4,375.0 L338.9,385.6 L340.3,391.7 L342.0,387.3 L343.3,376.7 L344.5,367.9 L346.3,373.2 L348.0,380.3 L349.8,390.9 L351.2,403.2 L352.1,415.5 L353.0,426.1 L354.4,435.8 L356.1,440.2 L357.5,440.8 L357.5,440.8 L297.4,440.8 Z" fill="#9b9b9b" stroke="none"/>
<path d="M297.4,440.8 L303.6,439.9 L309.8,437.6 L315.0,433.2 L318.6,427.9 L321.2,420.8 L323.9,412.0 L325.6,403.2 L327.4,392.6 L329.2,380.3 L330.9,367.9 L332.7,362.6 L334.4,358.2 L335.9,364.4 L337.4,375.0 L338.9,385.6 L340.3,391.7 L342.0,387.3 L343.3,376.7 L344.5,367.9 L346.3,373.2 L348.0,380.3 L349.8,390.9 L351.2,403.2 L352.1,415.5 L353.0,426.1 L354.4,435.8 L356.1,440.2 L357.5,440.8" fill="none" stroke="#2a2a2a" stroke-width="0.9" stroke-linejoin="round"/>
<line x1="339.2" y1="421.2" x2="373.8" y2="421.2" stroke="#333" stroke-width="1.05"/>
<line x1="339.2" y1="419.3" x2="339.2" y2="423.09999999999997" stroke="#555" stroke-width="1.1"/>
<line x1="373.8" y1="419.3" x2="373.8" y2="423.09999999999997" stroke="#555" stroke-width="1.1"/>
<text x="365.8" y="412.9" font-size="12.2" font-weight="normal" text-anchor="middle" textLength="22.8" lengthAdjust="spacingAndGlyphs" style="stroke-width:0.42px">45.7</text>
<text x="329.7" y="344" font-size="12" font-weight="normal" text-anchor="start" textLength="24.4" lengthAdjust="spacingAndGlyphs" style="stroke-width:0.42px">AML</text>
<rect x="93.2" y="491.3" width="92.39999999999999" height="92.40000000000003" fill="none" stroke="#999999" stroke-width="1"/>
<line x1="90.2" y1="500.1" x2="93.2" y2="500.1" stroke="#555" stroke-width="0.9"/>
<line x1="90.2" y1="521.0" x2="93.2" y2="521.0" stroke="#555" stroke-width="0.9"/>
<line x1="90.2" y1="541.9000000000001" x2="93.2" y2="541.9000000000001" stroke="#555" stroke-width="0.9"/>
<line x1="90.2" y1="562.8000000000001" x2="93.2" y2="562.8000000000001" stroke="#555" stroke-width="0.9"/>
<line x1="90.2" y1="583.7" x2="93.2" y2="583.7" stroke="#555" stroke-width="0.9"/>
<line x1="91.60000000000001" y1="504.3" x2="93.2" y2="504.3" stroke="#888" stroke-width="0.6"/>
<line x1="91.60000000000001" y1="508.5" x2="93.2" y2="508.5" stroke="#888" stroke-width="0.6"/>
<line x1="91.60000000000001" y1="512.6" x2="93.2" y2="512.6" stroke="#888" stroke-width="0.6"/>
<line x1="91.60000000000001" y1="516.8" x2="93.2" y2="516.8" stroke="#888" stroke-width="0.6"/>
<line x1="91.60000000000001" y1="525.2" x2="93.2" y2="525.2" stroke="#888" stroke-width="0.6"/>
<line x1="91.60000000000001" y1="529.4" x2="93.2" y2="529.4" stroke="#888" stroke-width="0.6"/>
<line x1="91.60000000000001" y1="533.5" x2="93.2" y2="533.5" stroke="#888" stroke-width="0.6"/>
<line x1="91.60000000000001" y1="537.7" x2="93.2" y2="537.7" stroke="#888" stroke-width="0.6"/>
<line x1="91.60000000000001" y1="546.1" x2="93.2" y2="546.1" stroke="#888" stroke-width="0.6"/>
<line x1="91.60000000000001" y1="550.3" x2="93.2" y2="550.3" stroke="#888" stroke-width="0.6"/>
<line x1="91.60000000000001" y1="554.4" x2="93.2" y2="554.4" stroke="#888" stroke-width="0.6"/>
<line x1="91.60000000000001" y1="558.6" x2="93.2" y2="558.6" stroke="#888" stroke-width="0.6"/>
<line x1="91.60000000000001" y1="567.0" x2="93.2" y2="567.0" stroke="#888" stroke-width="0.6"/>
<line x1="91.60000000000001" y1="571.2" x2="93.2" y2="571.2" stroke="#888" stroke-width="0.6"/>
<line x1="91.60000000000001" y1="575.3" x2="93.2" y2="575.3" stroke="#888" stroke-width="0.6"/>
<line x1="91.60000000000001" y1="579.5" x2="93.2" y2="579.5" stroke="#888" stroke-width="0.6"/>
<line x1="110.8" y1="583.7" x2="110.8" y2="586.2" stroke="#666" stroke-width="0.9"/>
<line x1="131.1" y1="583.7" x2="131.1" y2="586.2" stroke="#666" stroke-width="0.9"/>
<line x1="155.1" y1="583.7" x2="155.1" y2="586.2" stroke="#666" stroke-width="0.9"/>
<line x1="176.4" y1="583.7" x2="176.4" y2="586.2" stroke="#666" stroke-width="0.9"/>
<line x1="116.9" y1="583.7" x2="116.9" y2="585.1" stroke="#666" stroke-width="0.6"/>
<line x1="120.5" y1="583.7" x2="120.5" y2="585.1" stroke="#666" stroke-width="0.6"/>
<line x1="123.0" y1="583.7" x2="123.0" y2="585.1" stroke="#666" stroke-width="0.6"/>
<line x1="125.0" y1="583.7" x2="125.0" y2="585.1" stroke="#666" stroke-width="0.6"/>
<line x1="126.6" y1="583.7" x2="126.6" y2="585.1" stroke="#666" stroke-width="0.6"/>
<line x1="127.9" y1="583.7" x2="127.9" y2="585.1" stroke="#666" stroke-width="0.6"/>
<line x1="129.1" y1="583.7" x2="129.1" y2="585.1" stroke="#666" stroke-width="0.6"/>
<line x1="130.2" y1="583.7" x2="130.2" y2="585.1" stroke="#666" stroke-width="0.6"/>
<line x1="138.3" y1="583.7" x2="138.3" y2="585.1" stroke="#666" stroke-width="0.6"/>
<line x1="142.5" y1="583.7" x2="142.5" y2="585.1" stroke="#666" stroke-width="0.6"/>
<line x1="145.5" y1="583.7" x2="145.5" y2="585.1" stroke="#666" stroke-width="0.6"/>
<line x1="147.9" y1="583.7" x2="147.9" y2="585.1" stroke="#666" stroke-width="0.6"/>
<line x1="149.8" y1="583.7" x2="149.8" y2="585.1" stroke="#666" stroke-width="0.6"/>
<line x1="151.4" y1="583.7" x2="151.4" y2="585.1" stroke="#666" stroke-width="0.6"/>
<line x1="152.8" y1="583.7" x2="152.8" y2="585.1" stroke="#666" stroke-width="0.6"/>
<line x1="154.0" y1="583.7" x2="154.0" y2="585.1" stroke="#666" stroke-width="0.6"/>
<line x1="161.5" y1="583.7" x2="161.5" y2="585.1" stroke="#666" stroke-width="0.6"/>
<line x1="165.2" y1="583.7" x2="165.2" y2="585.1" stroke="#666" stroke-width="0.6"/>
<line x1="167.9" y1="583.7" x2="167.9" y2="585.1" stroke="#666" stroke-width="0.6"/>
<line x1="170.0" y1="583.7" x2="170.0" y2="585.1" stroke="#666" stroke-width="0.6"/>
<line x1="171.6" y1="583.7" x2="171.6" y2="585.1" stroke="#666" stroke-width="0.6"/>
<line x1="173.1" y1="583.7" x2="173.1" y2="585.1" stroke="#666" stroke-width="0.6"/>
<line x1="174.3" y1="583.7" x2="174.3" y2="585.1" stroke="#666" stroke-width="0.6"/>
<line x1="175.4" y1="583.7" x2="175.4" y2="585.1" stroke="#666" stroke-width="0.6"/>
<path d="M92.8,583.7 L100.6,583.2 L105.0,579.7 L108.5,574.4 L110.8,565.6 L112.6,549.7 L114.3,528.6 L116.5,512.7 L118.6,506.5 L120.3,512.7 L122.1,528.6 L123.5,549.7 L125.3,565.6 L127.4,576.2 L130.2,581.5 L133.2,583.7 L133.2,583.7 L92.8,583.7 Z" fill="#9b9b9b" stroke="none"/>
<path d="M92.8,583.7 L100.6,583.2 L105.0,579.7 L108.5,574.4 L110.8,565.6 L112.6,549.7 L114.3,528.6 L116.5,512.7 L118.6,506.5 L120.3,512.7 L122.1,528.6 L123.5,549.7 L125.3,565.6 L127.4,576.2 L130.2,581.5 L133.2,583.7" fill="none" stroke="#2a2a2a" stroke-width="0.9" stroke-linejoin="round"/>
<line x1="132.9" y1="563.5" x2="165" y2="563.5" stroke="#333" stroke-width="1.05"/>
<line x1="132.9" y1="561.6" x2="132.9" y2="565.4" stroke="#555" stroke-width="1.1"/>
<line x1="165" y1="561.6" x2="165" y2="565.4" stroke="#555" stroke-width="1.1"/>
<text x="151.1" y="555.9" font-size="12.2" font-weight="normal" text-anchor="middle" textLength="22.4" lengthAdjust="spacingAndGlyphs" style="stroke-width:0.42px">0.36</text>
<text x="127.9" y="486.6" font-size="12" font-weight="normal" text-anchor="start" textLength="15.3" lengthAdjust="spacingAndGlyphs" style="stroke-width:0.42px">Iso</text>
<rect x="194.4" y="491.3" width="92.20000000000002" height="92.40000000000003" fill="none" stroke="#999999" stroke-width="1"/>
<line x1="191.4" y1="508.70000000000005" x2="194.4" y2="508.70000000000005" stroke="#555" stroke-width="0.9"/>
<line x1="191.4" y1="533.7" x2="194.4" y2="533.7" stroke="#555" stroke-width="0.9"/>
<line x1="191.4" y1="558.7" x2="194.4" y2="558.7" stroke="#555" stroke-width="0.9"/>
<line x1="191.4" y1="583.7" x2="194.4" y2="583.7" stroke="#555" stroke-width="0.9"/>
<line x1="192.8" y1="513.7" x2="194.4" y2="513.7" stroke="#888" stroke-width="0.6"/>
<line x1="192.8" y1="518.7" x2="194.4" y2="518.7" stroke="#888" stroke-width="0.6"/>
<line x1="192.8" y1="523.7" x2="194.4" y2="523.7" stroke="#888" stroke-width="0.6"/>
<line x1="192.8" y1="528.7" x2="194.4" y2="528.7" stroke="#888" stroke-width="0.6"/>
<line x1="192.8" y1="538.7" x2="194.4" y2="538.7" stroke="#888" stroke-width="0.6"/>
<line x1="192.8" y1="543.7" x2="194.4" y2="543.7" stroke="#888" stroke-width="0.6"/>
<line x1="192.8" y1="548.7" x2="194.4" y2="548.7" stroke="#888" stroke-width="0.6"/>
<line x1="192.8" y1="553.7" x2="194.4" y2="553.7" stroke="#888" stroke-width="0.6"/>
<line x1="192.8" y1="563.7" x2="194.4" y2="563.7" stroke="#888" stroke-width="0.6"/>
<line x1="192.8" y1="568.7" x2="194.4" y2="568.7" stroke="#888" stroke-width="0.6"/>
<line x1="192.8" y1="573.7" x2="194.4" y2="573.7" stroke="#888" stroke-width="0.6"/>
<line x1="192.8" y1="578.7" x2="194.4" y2="578.7" stroke="#888" stroke-width="0.6"/>
<line x1="211.9" y1="583.7" x2="211.9" y2="586.2" stroke="#666" stroke-width="0.9"/>
<line x1="232.2" y1="583.7" x2="232.2" y2="586.2" stroke="#666" stroke-width="0.9"/>
<line x1="256.2" y1="583.7" x2="256.2" y2="586.2" stroke="#666" stroke-width="0.9"/>
<line x1="277.4" y1="583.7" x2="277.4" y2="586.2" stroke="#666" stroke-width="0.9"/>
<line x1="218.0" y1="583.7" x2="218.0" y2="585.1" stroke="#666" stroke-width="0.6"/>
<line x1="221.6" y1="583.7" x2="221.6" y2="585.1" stroke="#666" stroke-width="0.6"/>
<line x1="224.1" y1="583.7" x2="224.1" y2="585.1" stroke="#666" stroke-width="0.6"/>
<line x1="226.1" y1="583.7" x2="226.1" y2="585.1" stroke="#666" stroke-width="0.6"/>
<line x1="227.7" y1="583.7" x2="227.7" y2="585.1" stroke="#666" stroke-width="0.6"/>
<line x1="229.1" y1="583.7" x2="229.1" y2="585.1" stroke="#666" stroke-width="0.6"/>
<line x1="230.2" y1="583.7" x2="230.2" y2="585.1" stroke="#666" stroke-width="0.6"/>
<line x1="231.3" y1="583.7" x2="231.3" y2="585.1" stroke="#666" stroke-width="0.6"/>
<line x1="239.4" y1="583.7" x2="239.4" y2="585.1" stroke="#666" stroke-width="0.6"/>
<line x1="243.6" y1="583.7" x2="243.6" y2="585.1" stroke="#666" stroke-width="0.6"/>
<line x1="246.6" y1="583.7" x2="246.6" y2="585.1" stroke="#666" stroke-width="0.6"/>
<line x1="249.0" y1="583.7" x2="249.0" y2="585.1" stroke="#666" stroke-width="0.6"/>
<line x1="250.9" y1="583.7" x2="250.9" y2="585.1" stroke="#666" stroke-width="0.6"/>
<line x1="252.5" y1="583.7" x2="252.5" y2="585.1" stroke="#666" stroke-width="0.6"/>
<line x1="253.9" y1="583.7" x2="253.9" y2="585.1" stroke="#666" stroke-width="0.6"/>
<line x1="255.1" y1="583.7" x2="255.1" y2="585.1" stroke="#666" stroke-width="0.6"/>
<line x1="262.6" y1="583.7" x2="262.6" y2="585.1" stroke="#666" stroke-width="0.6"/>
<line x1="266.3" y1="583.7" x2="266.3" y2="585.1" stroke="#666" stroke-width="0.6"/>
<line x1="268.9" y1="583.7" x2="268.9" y2="585.1" stroke="#666" stroke-width="0.6"/>
<line x1="271.0" y1="583.7" x2="271.0" y2="585.1" stroke="#666" stroke-width="0.6"/>
<line x1="272.7" y1="583.7" x2="272.7" y2="585.1" stroke="#666" stroke-width="0.6"/>
<line x1="274.1" y1="583.7" x2="274.1" y2="585.1" stroke="#666" stroke-width="0.6"/>
<line x1="275.3" y1="583.7" x2="275.3" y2="585.1" stroke="#666" stroke-width="0.6"/>
<line x1="276.4" y1="583.7" x2="276.4" y2="585.1" stroke="#666" stroke-width="0.6"/>
<path d="M195.0,577.5 L195.6,578.8 L197.0,581.5 L200.6,581.8 L207.6,581.1 L212.0,578.8 L216.5,577.6 L219.1,574.4 L221.7,569.1 L224.4,562.1 L226.7,553.3 L228.4,540.9 L230.2,526.8 L232.0,512.7 L233.7,501.2 L235.5,500.3 L236.7,507.4 L238.0,519.7 L239.0,533.9 L240.3,549.7 L241.5,565.6 L242.9,578.0 L245.0,583.2 L248.2,583.7 L248.2,583.7 L195.0,583.7 Z" fill="#9b9b9b" stroke="none"/>
<path d="M195.0,577.5 L195.6,578.8 L197.0,581.5 L200.6,581.8 L207.6,581.1 L212.0,578.8 L216.5,577.6 L219.1,574.4 L221.7,569.1 L224.4,562.1 L226.7,553.3 L228.4,540.9 L230.2,526.8 L232.0,512.7 L233.7,501.2 L235.5,500.3 L236.7,507.4 L238.0,519.7 L239.0,533.9 L240.3,549.7 L241.5,565.6 L242.9,578.0 L245.0,583.2 L248.2,583.7" fill="none" stroke="#2a2a2a" stroke-width="0.9" stroke-linejoin="round"/>
<line x1="237.6" y1="563.3" x2="266.7" y2="563.3" stroke="#333" stroke-width="1.05"/>
<line x1="237.6" y1="561.4" x2="237.6" y2="565.1999999999999" stroke="#555" stroke-width="1.1"/>
<line x1="266.7" y1="561.4" x2="266.7" y2="565.1999999999999" stroke="#555" stroke-width="1.1"/>
<text x="252.8" y="555.9" font-size="12.2" font-weight="normal" text-anchor="middle" textLength="22.4" lengthAdjust="spacingAndGlyphs" style="stroke-width:0.42px">23.1</text>
<text x="230.29999999999998" y="486.6" font-size="12" font-weight="normal" text-anchor="start" textLength="16.6" lengthAdjust="spacingAndGlyphs" style="stroke-width:0.42px">HD</text>
<rect x="297.3" y="491.3" width="92.30000000000001" height="92.40000000000003" fill="none" stroke="#999999" stroke-width="1"/>
<line x1="294.3" y1="491.70000000000005" x2="297.3" y2="491.70000000000005" stroke="#555" stroke-width="0.9"/>
<line x1="294.3" y1="514.7" x2="297.3" y2="514.7" stroke="#555" stroke-width="0.9"/>
<line x1="294.3" y1="537.7" x2="297.3" y2="537.7" stroke="#555" stroke-width="0.9"/>
<line x1="294.3" y1="560.7" x2="297.3" y2="560.7" stroke="#555" stroke-width="0.9"/>
<line x1="294.3" y1="583.7" x2="297.3" y2="583.7" stroke="#555" stroke-width="0.9"/>
<line x1="295.7" y1="496.3" x2="297.3" y2="496.3" stroke="#888" stroke-width="0.6"/>
<line x1="295.7" y1="500.9" x2="297.3" y2="500.9" stroke="#888" stroke-width="0.6"/>
<line x1="295.7" y1="505.5" x2="297.3" y2="505.5" stroke="#888" stroke-width="0.6"/>
<line x1="295.7" y1="510.1" x2="297.3" y2="510.1" stroke="#888" stroke-width="0.6"/>
<line x1="295.7" y1="519.3" x2="297.3" y2="519.3" stroke="#888" stroke-width="0.6"/>
<line x1="295.7" y1="523.9" x2="297.3" y2="523.9" stroke="#888" stroke-width="0.6"/>
<line x1="295.7" y1="528.5" x2="297.3" y2="528.5" stroke="#888" stroke-width="0.6"/>
<line x1="295.7" y1="533.1" x2="297.3" y2="533.1" stroke="#888" stroke-width="0.6"/>
<line x1="295.7" y1="542.3" x2="297.3" y2="542.3" stroke="#888" stroke-width="0.6"/>
<line x1="295.7" y1="546.9" x2="297.3" y2="546.9" stroke="#888" stroke-width="0.6"/>
<line x1="295.7" y1="551.5" x2="297.3" y2="551.5" stroke="#888" stroke-width="0.6"/>
<line x1="295.7" y1="556.1" x2="297.3" y2="556.1" stroke="#888" stroke-width="0.6"/>
<line x1="295.7" y1="565.3" x2="297.3" y2="565.3" stroke="#888" stroke-width="0.6"/>
<line x1="295.7" y1="569.9" x2="297.3" y2="569.9" stroke="#888" stroke-width="0.6"/>
<line x1="295.7" y1="574.5" x2="297.3" y2="574.5" stroke="#888" stroke-width="0.6"/>
<line x1="295.7" y1="579.1" x2="297.3" y2="579.1" stroke="#888" stroke-width="0.6"/>
<line x1="314.8" y1="583.7" x2="314.8" y2="586.2" stroke="#666" stroke-width="0.9"/>
<line x1="335.1" y1="583.7" x2="335.1" y2="586.2" stroke="#666" stroke-width="0.9"/>
<line x1="359.1" y1="583.7" x2="359.1" y2="586.2" stroke="#666" stroke-width="0.9"/>
<line x1="380.4" y1="583.7" x2="380.4" y2="586.2" stroke="#666" stroke-width="0.9"/>
<line x1="320.9" y1="583.7" x2="320.9" y2="585.1" stroke="#666" stroke-width="0.6"/>
<line x1="324.5" y1="583.7" x2="324.5" y2="585.1" stroke="#666" stroke-width="0.6"/>
<line x1="327.1" y1="583.7" x2="327.1" y2="585.1" stroke="#666" stroke-width="0.6"/>
<line x1="329.0" y1="583.7" x2="329.0" y2="585.1" stroke="#666" stroke-width="0.6"/>
<line x1="330.6" y1="583.7" x2="330.6" y2="585.1" stroke="#666" stroke-width="0.6"/>
<line x1="332.0" y1="583.7" x2="332.0" y2="585.1" stroke="#666" stroke-width="0.6"/>
<line x1="333.2" y1="583.7" x2="333.2" y2="585.1" stroke="#666" stroke-width="0.6"/>
<line x1="334.2" y1="583.7" x2="334.2" y2="585.1" stroke="#666" stroke-width="0.6"/>
<line x1="342.4" y1="583.7" x2="342.4" y2="585.1" stroke="#666" stroke-width="0.6"/>
<line x1="346.6" y1="583.7" x2="346.6" y2="585.1" stroke="#666" stroke-width="0.6"/>
<line x1="349.6" y1="583.7" x2="349.6" y2="585.1" stroke="#666" stroke-width="0.6"/>
<line x1="351.9" y1="583.7" x2="351.9" y2="585.1" stroke="#666" stroke-width="0.6"/>
<line x1="353.8" y1="583.7" x2="353.8" y2="585.1" stroke="#666" stroke-width="0.6"/>
<line x1="355.4" y1="583.7" x2="355.4" y2="585.1" stroke="#666" stroke-width="0.6"/>
<line x1="356.8" y1="583.7" x2="356.8" y2="585.1" stroke="#666" stroke-width="0.6"/>
<line x1="358.0" y1="583.7" x2="358.0" y2="585.1" stroke="#666" stroke-width="0.6"/>
<line x1="365.5" y1="583.7" x2="365.5" y2="585.1" stroke="#666" stroke-width="0.6"/>
<line x1="369.3" y1="583.7" x2="369.3" y2="585.1" stroke="#666" stroke-width="0.6"/>
<line x1="371.9" y1="583.7" x2="371.9" y2="585.1" stroke="#666" stroke-width="0.6"/>
<line x1="374.0" y1="583.7" x2="374.0" y2="585.1" stroke="#666" stroke-width="0.6"/>
<line x1="375.7" y1="583.7" x2="375.7" y2="585.1" stroke="#666" stroke-width="0.6"/>
<line x1="377.1" y1="583.7" x2="377.1" y2="585.1" stroke="#666" stroke-width="0.6"/>
<line x1="378.3" y1="583.7" x2="378.3" y2="585.1" stroke="#666" stroke-width="0.6"/>
<line x1="379.4" y1="583.7" x2="379.4" y2="585.1" stroke="#666" stroke-width="0.6"/>
<path d="M297.4,583.7 L297.9,578.3 L303.6,577.1 L309.8,574.4 L315.0,570.9 L319.1,565.6 L322.1,558.5 L324.4,549.7 L326.5,539.1 L328.3,526.8 L330.0,514.5 L331.8,503.9 L333.6,500.3 L335.3,498.9 L337.1,507.4 L338.9,512.7 L340.6,518.9 L342.4,514.5 L344.1,505.6 L345.9,498.2 L347.7,505.6 L349.1,516.2 L350.3,533.9 L351.2,549.7 L352.1,563.8 L353.3,574.4 L355.1,580.6 L357.4,583.2 L359.0,583.7 L359.0,583.7 L297.4,583.7 Z" fill="#9b9b9b" stroke="none"/>
<path d="M297.4,583.7 L297.9,578.3 L303.6,577.1 L309.8,574.4 L315.0,570.9 L319.1,565.6 L322.1,558.5 L324.4,549.7 L326.5,539.1 L328.3,526.8 L330.0,514.5 L331.8,503.9 L333.6,500.3 L335.3,498.9 L337.1,507.4 L338.9,512.7 L340.6,518.9 L342.4,514.5 L344.1,505.6 L345.9,498.2 L347.7,505.6 L349.1,516.2 L350.3,533.9 L351.2,549.7 L352.1,563.8 L353.3,574.4 L355.1,580.6 L357.4,583.2 L359.0,583.7" fill="none" stroke="#2a2a2a" stroke-width="0.9" stroke-linejoin="round"/>
<line x1="340.6" y1="563" x2="369.2" y2="563" stroke="#333" stroke-width="1.05"/>
<line x1="340.6" y1="561.1" x2="340.6" y2="564.9" stroke="#555" stroke-width="1.1"/>
<line x1="369.2" y1="561.1" x2="369.2" y2="564.9" stroke="#555" stroke-width="1.1"/>
<text x="365" y="555.9" font-size="12.2" font-weight="normal" text-anchor="middle" textLength="22.4" lengthAdjust="spacingAndGlyphs" style="stroke-width:0.42px">40.8</text>
<text x="329.3" y="486.6" font-size="12" font-weight="normal" text-anchor="start" textLength="24.4" lengthAdjust="spacingAndGlyphs" style="stroke-width:0.42px">AML</text>
<text x="40.3" y="403.9" font-size="12" font-weight="normal" text-anchor="start" textLength="23.7" lengthAdjust="spacingAndGlyphs" >CD4</text>
<text x="39" y="546.4" font-size="12" font-weight="normal" text-anchor="start" textLength="23.4" lengthAdjust="spacingAndGlyphs" >CD8</text>
<line x1="79.7" y1="365.3" x2="79.7" y2="396" stroke="#000" stroke-width="1.3"/>
<path d="M79.7,357.6 L76.9,365.8 L82.5,365.8 Z" fill="#000"/>
<text transform="translate(84.3,420.3) rotate(-90)" x="0" y="0" font-size="12" font-weight="normal" text-anchor="middle" textLength="37.4" lengthAdjust="spacingAndGlyphs">Counts</text>
<line x1="80.9" y1="508.2" x2="80.9" y2="538.6" stroke="#000" stroke-width="1.3"/>
<path d="M80.9,500.5 L78.10000000000001,508.7 L83.7,508.7 Z" fill="#000"/>
<text transform="translate(84.6,563.5) rotate(-90)" x="0" y="0" font-size="12" font-weight="normal" text-anchor="middle" textLength="36" lengthAdjust="spacingAndGlyphs">Counts</text>
<text x="96.2" y="457" font-size="11" font-weight="normal" text-anchor="start" textLength="37.6" lengthAdjust="spacingAndGlyphs" >Blimp-1</text>
<line x1="146.2" y1="452.3" x2="290.4" y2="452.3" stroke="#000" stroke-width="1.3"/>
<path d="M298.4,452.3 L289.9,449.5 L289.9,455.1 Z" fill="#000"/>
<text x="94.5" y="600.3" font-size="11" font-weight="normal" text-anchor="start" textLength="38.9" lengthAdjust="spacingAndGlyphs" >Blimp-1</text>
<line x1="144.8" y1="595" x2="289.2" y2="595" stroke="#000" stroke-width="1.3"/>
<path d="M297.2,595 L288.7,592.2 L288.7,597.8 Z" fill="#000"/>
<line x1="496.1" y1="27.4" x2="496.1" y2="133.1" stroke="#000" stroke-width="1.6"/>
<line x1="495.5" y1="132.5" x2="567" y2="132.5" stroke="#000" stroke-width="1.6"/>
<line x1="491.5" y1="132.5" x2="496.1" y2="132.5" stroke="#000" stroke-width="1.6"/>
<text x="487.5" y="136.5" font-size="11.6" font-weight="normal" text-anchor="end" textLength="6.1" lengthAdjust="spacingAndGlyphs" style="stroke-width:0.42px">0</text>
<line x1="491.5" y1="106.22" x2="496.1" y2="106.22" stroke="#000" stroke-width="1.6"/>
<text x="487.5" y="110.22" font-size="11.6" font-weight="normal" text-anchor="end" textLength="12.2" lengthAdjust="spacingAndGlyphs" style="stroke-width:0.42px">20</text>
<line x1="491.5" y1="79.95" x2="496.1" y2="79.95" stroke="#000" stroke-width="1.6"/>
<text x="487.5" y="83.95" font-size="11.6" font-weight="normal" text-anchor="end" textLength="12.2" lengthAdjust="spacingAndGlyphs" style="stroke-width:0.42px">40</text>
<line x1="491.5" y1="53.68" x2="496.1" y2="53.68" stroke="#000" stroke-width="1.6"/>
<text x="487.5" y="57.68" font-size="11.6" font-weight="normal" text-anchor="end" textLength="12.2" lengthAdjust="spacingAndGlyphs" style="stroke-width:0.42px">60</text>
<line x1="491.5" y1="27.4" x2="496.1" y2="27.4" stroke="#000" stroke-width="1.6"/>
<text x="487.5" y="31.4" font-size="11.6" font-weight="normal" text-anchor="end" textLength="12.2" lengthAdjust="spacingAndGlyphs" style="stroke-width:0.42px">80</text>
<line x1="513.8" y1="132.5" x2="513.8" y2="137.5" stroke="#000" stroke-width="1.6"/>
<line x1="548.7" y1="132.5" x2="548.7" y2="137.5" stroke="#000" stroke-width="1.6"/>
<text x="513.8" y="149.4" font-size="11.6" font-weight="normal" text-anchor="middle" textLength="16.3" lengthAdjust="spacingAndGlyphs" style="stroke-width:0.42px">HD</text>
<text x="548.7" y="149.4" font-size="11.6" font-weight="normal" text-anchor="middle" textLength="24" lengthAdjust="spacingAndGlyphs" style="stroke-width:0.42px">AML</text>
<text x="507.4" y="20.9" font-size="11.8" textLength="50.8" lengthAdjust="spacingAndGlyphs" style="stroke-width:0.45px"><tspan font-style="italic">P</tspan>=0.0196</text>
<line x1="513.7" y1="27.4" x2="548.3" y2="27.4" stroke="#000" stroke-width="1.6"/>
<text transform="translate(469.6,81.9) rotate(-90)" x="0" y="0" font-size="12" text-anchor="middle" textLength="122.7" lengthAdjust="spacingAndGlyphs">% of Blimp–1<tspan font-size="8" dy="-4">+</tspan><tspan dy="4"> in CD4</tspan><tspan font-size="8" dy="-4">+</tspan><tspan dy="4">T</tspan></text>
<circle cx="513.8" cy="45.9" r="2.0" fill="#000"/>
<circle cx="513.8" cy="52.1" r="2.0" fill="#000"/>
<circle cx="519" cy="56" r="2.0" fill="#000"/>
<circle cx="508.1" cy="58.1" r="2.0" fill="#000"/>
<circle cx="513.8" cy="59" r="2.0" fill="#000"/>
<circle cx="516.4" cy="61.6" r="2.0" fill="#000"/>
<circle cx="511.1" cy="64.6" r="2.0" fill="#000"/>
<circle cx="519" cy="66.9" r="2.0" fill="#000"/>
<circle cx="508.1" cy="68.2" r="2.0" fill="#000"/>
<circle cx="513.8" cy="70.4" r="2.0" fill="#000"/>
<circle cx="505.5" cy="74.7" r="2.0" fill="#000"/>
<circle cx="521.6" cy="74.3" r="2.0" fill="#000"/>
<circle cx="511.1" cy="79" r="2.0" fill="#000"/>
<circle cx="516.4" cy="77.4" r="2.0" fill="#000"/>
<circle cx="505.5" cy="83.2" r="2.0" fill="#000"/>
<circle cx="521.6" cy="83.6" r="2.0" fill="#000"/>
<circle cx="511.1" cy="87.4" r="2.0" fill="#000"/>
<circle cx="516.4" cy="88.8" r="2.0" fill="#000"/>
<circle cx="508.1" cy="91.4" r="2.0" fill="#000"/>
<circle cx="519" cy="94" r="2.0" fill="#000"/>
<circle cx="513.8" cy="96.4" r="2.0" fill="#000"/>
<circle cx="511.1" cy="99.6" r="2.0" fill="#000"/>
<circle cx="516.4" cy="103.2" r="2.0" fill="#000"/>
<circle cx="516.4" cy="108.8" r="2.0" fill="#000"/>
<circle cx="511.1" cy="111.8" r="2.0" fill="#000"/>
<rect x="546.5" y="36.5" width="4.2" height="4.2" fill="#000"/>
<rect x="543.9" y="46.8" width="4.2" height="4.2" fill="#000"/>
<rect x="549.6" y="46.199999999999996" width="4.2" height="4.2" fill="#000"/>
<rect x="537.0" y="51.4" width="4.2" height="4.2" fill="#000"/>
<rect x="556.5" y="51.4" width="4.2" height="4.2" fill="#000"/>
<rect x="541.3" y="54.199999999999996" width="4.2" height="4.2" fill="#000"/>
<rect x="546.5" y="54.8" width="4.2" height="4.2" fill="#000"/>
<rect x="552.1999999999999" y="54.199999999999996" width="4.2" height="4.2" fill="#000"/>
<rect x="546.5" y="60.5" width="4.2" height="4.2" fill="#000"/>
<rect x="538.5" y="63.4" width="4.2" height="4.2" fill="#000"/>
<rect x="557.4" y="63.99999999999999" width="4.2" height="4.2" fill="#000"/>
<rect x="544.1999999999999" y="64.30000000000001" width="4.2" height="4.2" fill="#000"/>
<rect x="549.9" y="65.10000000000001" width="4.2" height="4.2" fill="#000"/>
<rect x="538.5" y="69.7" width="4.2" height="4.2" fill="#000"/>
<rect x="554.5" y="69.7" width="4.2" height="4.2" fill="#000"/>
<rect x="544.1999999999999" y="73.7" width="4.2" height="4.2" fill="#000"/>
<rect x="549.4" y="72.5" width="4.2" height="4.2" fill="#000"/>
<rect x="541.3" y="77.7" width="4.2" height="4.2" fill="#000"/>
<rect x="552.1999999999999" y="77.4" width="4.2" height="4.2" fill="#000"/>
<rect x="546.5" y="80.60000000000001" width="4.2" height="4.2" fill="#000"/>
<rect x="541.3" y="87.4" width="4.2" height="4.2" fill="#000"/>
<rect x="546.5" y="89.10000000000001" width="4.2" height="4.2" fill="#000"/>
<rect x="552.1999999999999" y="89.10000000000001" width="4.2" height="4.2" fill="#000"/>
<line x1="502" y1="78.7" x2="525.6" y2="78.7" stroke="#000" stroke-width="1.4"/>
<line x1="507.9" y1="59.9" x2="519.7" y2="59.9" stroke="#000" stroke-width="1.4"/>
<line x1="507.9" y1="96.6" x2="519.7" y2="96.6" stroke="#000" stroke-width="1.4"/>
<line x1="513.8" y1="59.9" x2="513.8" y2="96.6" stroke="#000" stroke-width="1.4"/>
<line x1="537" y1="66.6" x2="561" y2="66.6" stroke="#000" stroke-width="1.4"/>
<line x1="543.5" y1="54" x2="554.3" y2="54" stroke="#000" stroke-width="1.4"/>
<line x1="543.5" y1="79" x2="554.3" y2="79" stroke="#000" stroke-width="1.4"/>
<line x1="548.6" y1="54" x2="548.6" y2="79" stroke="#000" stroke-width="1.4"/>
<line x1="495.8" y1="179.6" x2="495.8" y2="285.40000000000003" stroke="#000" stroke-width="1.6"/>
<line x1="495.2" y1="284.8" x2="567" y2="284.8" stroke="#000" stroke-width="1.6"/>
<line x1="491.2" y1="284.8" x2="495.8" y2="284.8" stroke="#000" stroke-width="1.6"/>
<text x="487.2" y="288.8" font-size="11.6" font-weight="normal" text-anchor="end" textLength="6.1" lengthAdjust="spacingAndGlyphs" style="stroke-width:0.42px">0</text>
<line x1="491.2" y1="258.5" x2="495.8" y2="258.5" stroke="#000" stroke-width="1.6"/>
<text x="487.2" y="262.5" font-size="11.6" font-weight="normal" text-anchor="end" textLength="12.2" lengthAdjust="spacingAndGlyphs" style="stroke-width:0.42px">20</text>
<line x1="491.2" y1="232.2" x2="495.8" y2="232.2" stroke="#000" stroke-width="1.6"/>
<text x="487.2" y="236.2" font-size="11.6" font-weight="normal" text-anchor="end" textLength="12.2" lengthAdjust="spacingAndGlyphs" style="stroke-width:0.42px">40</text>
<line x1="491.2" y1="205.9" x2="495.8" y2="205.9" stroke="#000" stroke-width="1.6"/>
<text x="487.2" y="209.9" font-size="11.6" font-weight="normal" text-anchor="end" textLength="12.2" lengthAdjust="spacingAndGlyphs" style="stroke-width:0.42px">60</text>
<line x1="491.2" y1="179.6" x2="495.8" y2="179.6" stroke="#000" stroke-width="1.6"/>
<text x="487.2" y="183.6" font-size="11.6" font-weight="normal" text-anchor="end" textLength="12.2" lengthAdjust="spacingAndGlyphs" style="stroke-width:0.42px">80</text>
<line x1="513.8" y1="284.8" x2="513.8" y2="289.8" stroke="#000" stroke-width="1.6"/>
<line x1="548.7" y1="284.8" x2="548.7" y2="289.8" stroke="#000" stroke-width="1.6"/>
<text x="513.8" y="300.6" font-size="11.6" font-weight="normal" text-anchor="middle" textLength="16.3" lengthAdjust="spacingAndGlyphs" style="stroke-width:0.42px">HD</text>
<text x="548.7" y="300.6" font-size="11.6" font-weight="normal" text-anchor="middle" textLength="24" lengthAdjust="spacingAndGlyphs" style="stroke-width:0.42px">AML</text>
<text x="505.5" y="174.9" font-size="11.8" textLength="49.7" lengthAdjust="spacingAndGlyphs" style="stroke-width:0.45px"><tspan font-style="italic">P</tspan>&lt;0.0001</text>
<line x1="514.6" y1="179.6" x2="548.7" y2="179.6" stroke="#000" stroke-width="1.6"/>
<text transform="translate(469.8,233.8) rotate(-90)" x="0" y="0" font-size="12" text-anchor="middle" textLength="123" lengthAdjust="spacingAndGlyphs">% of Blimp–1<tspan font-size="8" dy="-4">+</tspan><tspan dy="4"> in CD8</tspan><tspan font-size="8" dy="-4">+</tspan><tspan dy="4">T</tspan></text>
<circle cx="513.6" cy="229.4" r="2.0" fill="#000"/>
<circle cx="513.6" cy="237" r="2.0" fill="#000"/>
<circle cx="510.6" cy="241" r="2.0" fill="#000"/>
<circle cx="516.5" cy="243.9" r="2.0" fill="#000"/>
<circle cx="508.3" cy="249.6" r="2.0" fill="#000"/>
<circle cx="503.7" cy="253" r="2.0" fill="#000"/>
<circle cx="508" cy="254.3" r="2.0" fill="#000"/>
<circle cx="513.6" cy="251.9" r="2.0" fill="#000"/>
<circle cx="519.1" cy="251.7" r="2.0" fill="#000"/>
<circle cx="522.9" cy="253.8" r="2.0" fill="#000"/>
<circle cx="519.7" cy="254.3" r="2.0" fill="#000"/>
<circle cx="511.7" cy="256.7" r="2.0" fill="#000"/>
<circle cx="515.4" cy="257.8" r="2.0" fill="#000"/>
<circle cx="505.3" cy="262.3" r="2.0" fill="#000"/>
<circle cx="510.6" cy="263.6" r="2.0" fill="#000"/>
<circle cx="516.5" cy="263.4" r="2.0" fill="#000"/>
<circle cx="521.8" cy="262.3" r="2.0" fill="#000"/>
<circle cx="504.3" cy="267.3" r="2.0" fill="#000"/>
<circle cx="508" cy="269.5" r="2.0" fill="#000"/>
<circle cx="510.6" cy="270.9" r="2.0" fill="#000"/>
<circle cx="513.6" cy="271.3" r="2.0" fill="#000"/>
<circle cx="516.5" cy="270.2" r="2.0" fill="#000"/>
<circle cx="519.7" cy="268.7" r="2.0" fill="#000"/>
<circle cx="522.6" cy="267" r="2.0" fill="#000"/>
<circle cx="513.6" cy="276.9" r="2.0" fill="#000"/>
<rect x="546.5" y="190.4" width="4.2" height="4.2" fill="#000"/>
<rect x="546.5" y="208.5" width="4.2" height="4.2" fill="#000"/>
<rect x="538.4" y="213.5" width="4.2" height="4.2" fill="#000"/>
<rect x="554.6" y="214.70000000000002" width="4.2" height="4.2" fill="#000"/>
<rect x="543.9" y="215.9" width="4.2" height="4.2" fill="#000"/>
<rect x="549.0" y="217.6" width="4.2" height="4.2" fill="#000"/>
<rect x="540.9" y="221.8" width="4.2" height="4.2" fill="#000"/>
<rect x="552.0" y="224.70000000000002" width="4.2" height="4.2" fill="#000"/>
<rect x="546.5" y="225.3" width="4.2" height="4.2" fill="#000"/>
<rect x="546.5" y="230.9" width="4.2" height="4.2" fill="#000"/>
<rect x="538.0" y="236.5" width="4.2" height="4.2" fill="#000"/>
<rect x="555.1999999999999" y="236.5" width="4.2" height="4.2" fill="#000"/>
<rect x="543.9" y="237.5" width="4.2" height="4.2" fill="#000"/>
<rect x="549.0" y="237.9" width="4.2" height="4.2" fill="#000"/>
<rect x="543.9" y="240.9" width="4.2" height="4.2" fill="#000"/>
<rect x="544.1999999999999" y="246.5" width="4.2" height="4.2" fill="#000"/>
<rect x="549.6" y="246.5" width="4.2" height="4.2" fill="#000"/>
<rect x="540.6" y="250.6" width="4.2" height="4.2" fill="#000"/>
<rect x="554.5" y="251.4" width="4.2" height="4.2" fill="#000"/>
<rect x="546.6999999999999" y="253.1" width="4.2" height="4.2" fill="#000"/>
<rect x="552.0" y="255.50000000000003" width="4.2" height="4.2" fill="#000"/>
<rect x="540.6" y="257.2" width="4.2" height="4.2" fill="#000"/>
<rect x="546.6999999999999" y="258.79999999999995" width="4.2" height="4.2" fill="#000"/>
<rect x="549.6" y="264.0" width="4.2" height="4.2" fill="#000"/>
<rect x="543.8" y="265.79999999999995" width="4.2" height="4.2" fill="#000"/>
<line x1="502" y1="257.8" x2="525.5" y2="257.8" stroke="#000" stroke-width="1.4"/>
<line x1="507.4" y1="245.9" x2="519.7" y2="245.9" stroke="#000" stroke-width="1.4"/>
<line x1="507.4" y1="270" x2="519.7" y2="270" stroke="#000" stroke-width="1.4"/>
<line x1="513.6" y1="245.9" x2="513.6" y2="270" stroke="#000" stroke-width="1.4"/>
<line x1="537.2" y1="238.1" x2="560" y2="238.1" stroke="#000" stroke-width="1.4"/>
<line x1="543" y1="220" x2="554.2" y2="220" stroke="#000" stroke-width="1.4"/>
<line x1="543" y1="256.5" x2="554.2" y2="256.5" stroke="#000" stroke-width="1.4"/>
<line x1="548.6" y1="220" x2="548.6" y2="256.5" stroke="#000" stroke-width="1.4"/>
<line x1="455.6" y1="337.4" x2="455.6" y2="443.5" stroke="#000" stroke-width="1.6"/>
<line x1="455.0" y1="442.9" x2="526.6" y2="442.9" stroke="#000" stroke-width="1.6"/>
<line x1="451.0" y1="442.9" x2="455.6" y2="442.9" stroke="#000" stroke-width="1.6"/>
<text x="447.0" y="446.9" font-size="11.6" font-weight="normal" text-anchor="end" textLength="6.1" lengthAdjust="spacingAndGlyphs" style="stroke-width:0.42px">0</text>
<line x1="451.0" y1="421.8" x2="455.6" y2="421.8" stroke="#000" stroke-width="1.6"/>
<text x="447.0" y="425.8" font-size="11.6" font-weight="normal" text-anchor="end" textLength="12.2" lengthAdjust="spacingAndGlyphs" style="stroke-width:0.42px">20</text>
<line x1="451.0" y1="400.7" x2="455.6" y2="400.7" stroke="#000" stroke-width="1.6"/>
<text x="447.0" y="404.7" font-size="11.6" font-weight="normal" text-anchor="end" textLength="12.2" lengthAdjust="spacingAndGlyphs" style="stroke-width:0.42px">40</text>
<line x1="451.0" y1="379.6" x2="455.6" y2="379.6" stroke="#000" stroke-width="1.6"/>
<text x="447.0" y="383.6" font-size="11.6" font-weight="normal" text-anchor="end" textLength="12.2" lengthAdjust="spacingAndGlyphs" style="stroke-width:0.42px">60</text>
<line x1="451.0" y1="358.5" x2="455.6" y2="358.5" stroke="#000" stroke-width="1.6"/>
<text x="447.0" y="362.5" font-size="11.6" font-weight="normal" text-anchor="end" textLength="12.2" lengthAdjust="spacingAndGlyphs" style="stroke-width:0.42px">80</text>
<line x1="451.0" y1="337.4" x2="455.6" y2="337.4" stroke="#000" stroke-width="1.6"/>
<text x="447.0" y="341.4" font-size="11.6" font-weight="normal" text-anchor="end" textLength="18.3" lengthAdjust="spacingAndGlyphs" style="stroke-width:0.42px">100</text>
<line x1="472.9" y1="442.9" x2="472.9" y2="447.9" stroke="#000" stroke-width="1.6"/>
<line x1="508.4" y1="442.9" x2="508.4" y2="447.9" stroke="#000" stroke-width="1.6"/>
<text x="472.9" y="459.0" font-size="11.6" font-weight="normal" text-anchor="middle" textLength="16.3" lengthAdjust="spacingAndGlyphs" style="stroke-width:0.42px">HD</text>
<text x="508.4" y="459.0" font-size="11.6" font-weight="normal" text-anchor="middle" textLength="24" lengthAdjust="spacingAndGlyphs" style="stroke-width:0.42px">AML</text>
<text x="463.3" y="333" font-size="11.8" textLength="51" lengthAdjust="spacingAndGlyphs" style="stroke-width:0.45px"><tspan font-style="italic">P</tspan>=0.0398</text>
<line x1="473" y1="337.4" x2="509" y2="337.4" stroke="#000" stroke-width="1.6"/>
<text transform="translate(427.2,391.2) rotate(-90)" x="0" y="0" font-size="12" text-anchor="middle" textLength="123.5" lengthAdjust="spacingAndGlyphs">% of Blimp–1<tspan font-size="8" dy="-4">+</tspan><tspan dy="4"> in CD4</tspan><tspan font-size="8" dy="-4">+</tspan><tspan dy="4">T</tspan></text>
<circle cx="473.1" cy="372.2" r="1.75" fill="none" stroke="#000" stroke-width="1.15"/>
<circle cx="473.1" cy="390.3" r="1.75" fill="none" stroke="#000" stroke-width="1.15"/>
<circle cx="473.1" cy="396.2" r="1.75" fill="none" stroke="#000" stroke-width="1.15"/>
<circle cx="467.8" cy="404.2" r="1.75" fill="none" stroke="#000" stroke-width="1.15"/>
<circle cx="475.6" cy="404.6" r="1.75" fill="none" stroke="#000" stroke-width="1.15"/>
<circle cx="481.5" cy="404.2" r="1.75" fill="none" stroke="#000" stroke-width="1.15"/>
<circle cx="467.8" cy="406.5" r="1.75" fill="none" stroke="#000" stroke-width="1.15"/>
<circle cx="470.7" cy="408.5" r="1.75" fill="none" stroke="#000" stroke-width="1.15"/>
<circle cx="478.6" cy="410.5" r="1.75" fill="none" stroke="#000" stroke-width="1.15"/>
<circle cx="467.8" cy="415.4" r="1.75" fill="none" stroke="#000" stroke-width="1.15"/>
<circle cx="475.6" cy="416" r="1.75" fill="none" stroke="#000" stroke-width="1.15"/>
<circle cx="484.1" cy="414.8" r="1.75" fill="none" stroke="#000" stroke-width="1.15"/>
<circle cx="464.8" cy="418" r="1.75" fill="none" stroke="#000" stroke-width="1.15"/>
<circle cx="470.7" cy="419.3" r="1.75" fill="none" stroke="#000" stroke-width="1.15"/>
<circle cx="481.5" cy="418" r="1.75" fill="none" stroke="#000" stroke-width="1.15"/>
<circle cx="475.6" cy="422.7" r="1.75" fill="none" stroke="#000" stroke-width="1.15"/>
<circle cx="470.7" cy="437" r="1.75" fill="none" stroke="#000" stroke-width="1.15"/>
<circle cx="475.6" cy="434.1" r="1.75" fill="none" stroke="#000" stroke-width="1.15"/>
<rect x="506.59999999999997" y="358.59999999999997" width="3.6" height="3.6" fill="none" stroke="#000" stroke-width="1.15"/>
<rect x="506.59999999999997" y="377.3" width="3.6" height="3.6" fill="none" stroke="#000" stroke-width="1.15"/>
<rect x="503.9" y="384.7" width="3.6" height="3.6" fill="none" stroke="#000" stroke-width="1.15"/>
<rect x="511.7" y="385.7" width="3.6" height="3.6" fill="none" stroke="#000" stroke-width="1.15"/>
<rect x="503.9" y="392.0" width="3.6" height="3.6" fill="none" stroke="#000" stroke-width="1.15"/>
<rect x="509.2" y="390.59999999999997" width="3.6" height="3.6" fill="none" stroke="#000" stroke-width="1.15"/>
<rect x="506.59999999999997" y="397.9" width="3.6" height="3.6" fill="none" stroke="#000" stroke-width="1.15"/>
<rect x="498.8" y="404.4" width="3.6" height="3.6" fill="none" stroke="#000" stroke-width="1.15"/>
<rect x="503.9" y="406.3" width="3.6" height="3.6" fill="none" stroke="#000" stroke-width="1.15"/>
<rect x="509.2" y="405.8" width="3.6" height="3.6" fill="none" stroke="#000" stroke-width="1.15"/>
<rect x="514.5" y="402.4" width="3.6" height="3.6" fill="none" stroke="#000" stroke-width="1.15"/>
<rect x="506.59999999999997" y="411.59999999999997" width="3.6" height="3.6" fill="none" stroke="#000" stroke-width="1.15"/>
<rect x="509.2" y="420.09999999999997" width="3.6" height="3.6" fill="none" stroke="#000" stroke-width="1.15"/>
<rect x="503.9" y="424.0" width="3.6" height="3.6" fill="none" stroke="#000" stroke-width="1.15"/>
<line x1="461.9" y1="410.9" x2="484.5" y2="410.9" stroke="#000" stroke-width="1.4"/>
<line x1="467.5" y1="395.8" x2="479" y2="395.8" stroke="#000" stroke-width="1.4"/>
<line x1="467.5" y1="426.2" x2="479" y2="426.2" stroke="#000" stroke-width="1.4"/>
<line x1="473.1" y1="395.8" x2="473.1" y2="426.2" stroke="#000" stroke-width="1.4"/>
<line x1="496.6" y1="399.1" x2="519.8" y2="399.1" stroke="#000" stroke-width="1.4"/>
<line x1="502.5" y1="381.4" x2="513.9" y2="381.4" stroke="#000" stroke-width="1.4"/>
<line x1="502.5" y1="416" x2="513.9" y2="416" stroke="#000" stroke-width="1.4"/>
<line x1="508.4" y1="381.4" x2="508.4" y2="416" stroke="#000" stroke-width="1.4"/>
<line x1="455.7" y1="489" x2="455.7" y2="594.4" stroke="#000" stroke-width="1.6"/>
<line x1="455.09999999999997" y1="593.8" x2="526.6" y2="593.8" stroke="#000" stroke-width="1.6"/>
<line x1="451.09999999999997" y1="593.8" x2="455.7" y2="593.8" stroke="#000" stroke-width="1.6"/>
<text x="447.09999999999997" y="597.8" font-size="11.6" font-weight="normal" text-anchor="end" textLength="6.1" lengthAdjust="spacingAndGlyphs" style="stroke-width:0.42px">0</text>
<line x1="451.09999999999997" y1="567.6" x2="455.7" y2="567.6" stroke="#000" stroke-width="1.6"/>
<text x="447.09999999999997" y="571.6" font-size="11.6" font-weight="normal" text-anchor="end" textLength="12.2" lengthAdjust="spacingAndGlyphs" style="stroke-width:0.42px">20</text>
<line x1="451.09999999999997" y1="541.4" x2="455.7" y2="541.4" stroke="#000" stroke-width="1.6"/>
<text x="447.09999999999997" y="545.4" font-size="11.6" font-weight="normal" text-anchor="end" textLength="12.2" lengthAdjust="spacingAndGlyphs" style="stroke-width:0.42px">40</text>
<line x1="451.09999999999997" y1="515.2" x2="455.7" y2="515.2" stroke="#000" stroke-width="1.6"/>
<text x="447.09999999999997" y="519.2" font-size="11.6" font-weight="normal" text-anchor="end" textLength="12.2" lengthAdjust="spacingAndGlyphs" style="stroke-width:0.42px">60</text>
<line x1="451.09999999999997" y1="489.0" x2="455.7" y2="489.0" stroke="#000" stroke-width="1.6"/>
<text x="447.09999999999997" y="493.0" font-size="11.6" font-weight="normal" text-anchor="end" textLength="12.2" lengthAdjust="spacingAndGlyphs" style="stroke-width:0.42px">80</text>
<line x1="473.2" y1="593.8" x2="473.2" y2="598.8" stroke="#000" stroke-width="1.6"/>
<line x1="508.3" y1="593.8" x2="508.3" y2="598.8" stroke="#000" stroke-width="1.6"/>
<text x="473.2" y="609.9" font-size="11.6" font-weight="normal" text-anchor="middle" textLength="16.3" lengthAdjust="spacingAndGlyphs" style="stroke-width:0.42px">HD</text>
<text x="508.3" y="609.9" font-size="11.6" font-weight="normal" text-anchor="middle" textLength="24" lengthAdjust="spacingAndGlyphs" style="stroke-width:0.42px">AML</text>
<text x="465.4" y="485.3" font-size="11.8" textLength="50.1" lengthAdjust="spacingAndGlyphs" style="stroke-width:0.45px"><tspan font-style="italic">P</tspan>=0.0120</text>
<line x1="473.6" y1="489" x2="508.4" y2="489" stroke="#000" stroke-width="1.6"/>
<text transform="translate(427.6,541.2) rotate(-90)" x="0" y="0" font-size="12" text-anchor="middle" textLength="122.3" lengthAdjust="spacingAndGlyphs">% of Blimp–1<tspan font-size="8" dy="-4">+</tspan><tspan dy="4"> in CD8</tspan><tspan font-size="8" dy="-4">+</tspan><tspan dy="4">T</tspan></text>
<circle cx="473.3" cy="526.8" r="1.75" fill="none" stroke="#000" stroke-width="1.15"/>
<circle cx="473.3" cy="536.2" r="1.75" fill="none" stroke="#000" stroke-width="1.15"/>
<circle cx="470.8" cy="548.7" r="1.75" fill="none" stroke="#000" stroke-width="1.15"/>
<circle cx="476.1" cy="550.4" r="1.75" fill="none" stroke="#000" stroke-width="1.15"/>
<circle cx="468.2" cy="555.6" r="1.75" fill="none" stroke="#000" stroke-width="1.15"/>
<circle cx="473.3" cy="559" r="1.75" fill="none" stroke="#000" stroke-width="1.15"/>
<circle cx="478.9" cy="559" r="1.75" fill="none" stroke="#000" stroke-width="1.15"/>
<circle cx="470.8" cy="561.6" r="1.75" fill="none" stroke="#000" stroke-width="1.15"/>
<circle cx="476.1" cy="565.9" r="1.75" fill="none" stroke="#000" stroke-width="1.15"/>
<circle cx="464.7" cy="568" r="1.75" fill="none" stroke="#000" stroke-width="1.15"/>
<circle cx="468.6" cy="570.6" r="1.75" fill="none" stroke="#000" stroke-width="1.15"/>
<circle cx="473.3" cy="571.9" r="1.75" fill="none" stroke="#000" stroke-width="1.15"/>
<circle cx="477.6" cy="571.2" r="1.75" fill="none" stroke="#000" stroke-width="1.15"/>
<circle cx="482.6" cy="570.1" r="1.75" fill="none" stroke="#000" stroke-width="1.15"/>
<circle cx="473.3" cy="574.4" r="1.75" fill="none" stroke="#000" stroke-width="1.15"/>
<circle cx="470.8" cy="577.7" r="1.75" fill="none" stroke="#000" stroke-width="1.15"/>
<circle cx="478.9" cy="580.9" r="1.75" fill="none" stroke="#000" stroke-width="1.15"/>
<circle cx="476.1" cy="584.7" r="1.75" fill="none" stroke="#000" stroke-width="1.15"/>
<circle cx="470.8" cy="588.4" r="1.75" fill="none" stroke="#000" stroke-width="1.15"/>
<rect x="506.5" y="514.2" width="3.6" height="3.6" fill="none" stroke="#000" stroke-width="1.15"/>
<rect x="503.7" y="531.9000000000001" width="3.6" height="3.6" fill="none" stroke="#000" stroke-width="1.15"/>
<rect x="509.3" y="528.0" width="3.6" height="3.6" fill="none" stroke="#000" stroke-width="1.15"/>
<rect x="503.7" y="540.0" width="3.6" height="3.6" fill="none" stroke="#000" stroke-width="1.15"/>
<rect x="498.59999999999997" y="543.7" width="3.6" height="3.6" fill="none" stroke="#000" stroke-width="1.15"/>
<rect x="511.90000000000003" y="541.5" width="3.6" height="3.6" fill="none" stroke="#000" stroke-width="1.15"/>
<rect x="515.1" y="542.6" width="3.6" height="3.6" fill="none" stroke="#000" stroke-width="1.15"/>
<rect x="503.7" y="548.0" width="3.6" height="3.6" fill="none" stroke="#000" stroke-width="1.15"/>
<rect x="509.3" y="547.3000000000001" width="3.6" height="3.6" fill="none" stroke="#000" stroke-width="1.15"/>
<rect x="498.59999999999997" y="557.2" width="3.6" height="3.6" fill="none" stroke="#000" stroke-width="1.15"/>
<rect x="503.7" y="559.3000000000001" width="3.6" height="3.6" fill="none" stroke="#000" stroke-width="1.15"/>
<rect x="509.3" y="559.3000000000001" width="3.6" height="3.6" fill="none" stroke="#000" stroke-width="1.15"/>
<rect x="515.1" y="558.7" width="3.6" height="3.6" fill="none" stroke="#000" stroke-width="1.15"/>
<rect x="506.5" y="572.2" width="3.6" height="3.6" fill="none" stroke="#000" stroke-width="1.15"/>
<line x1="461.7" y1="562.4" x2="484.7" y2="562.4" stroke="#000" stroke-width="1.4"/>
<line x1="467.5" y1="545.9" x2="479.3" y2="545.9" stroke="#000" stroke-width="1.4"/>
<line x1="467.5" y1="578.7" x2="479.3" y2="578.7" stroke="#000" stroke-width="1.4"/>
<line x1="473.3" y1="545.9" x2="473.3" y2="578.7" stroke="#000" stroke-width="1.4"/>
<line x1="496.5" y1="547.8" x2="520.1" y2="547.8" stroke="#000" stroke-width="1.4"/>
<line x1="502.5" y1="532" x2="514.1" y2="532" stroke="#000" stroke-width="1.4"/>
<line x1="502.5" y1="562.6" x2="514.1" y2="562.6" stroke="#000" stroke-width="1.4"/>
<line x1="508.3" y1="532" x2="508.3" y2="562.6" stroke="#000" stroke-width="1.4"/>
</svg>
</body></html>
